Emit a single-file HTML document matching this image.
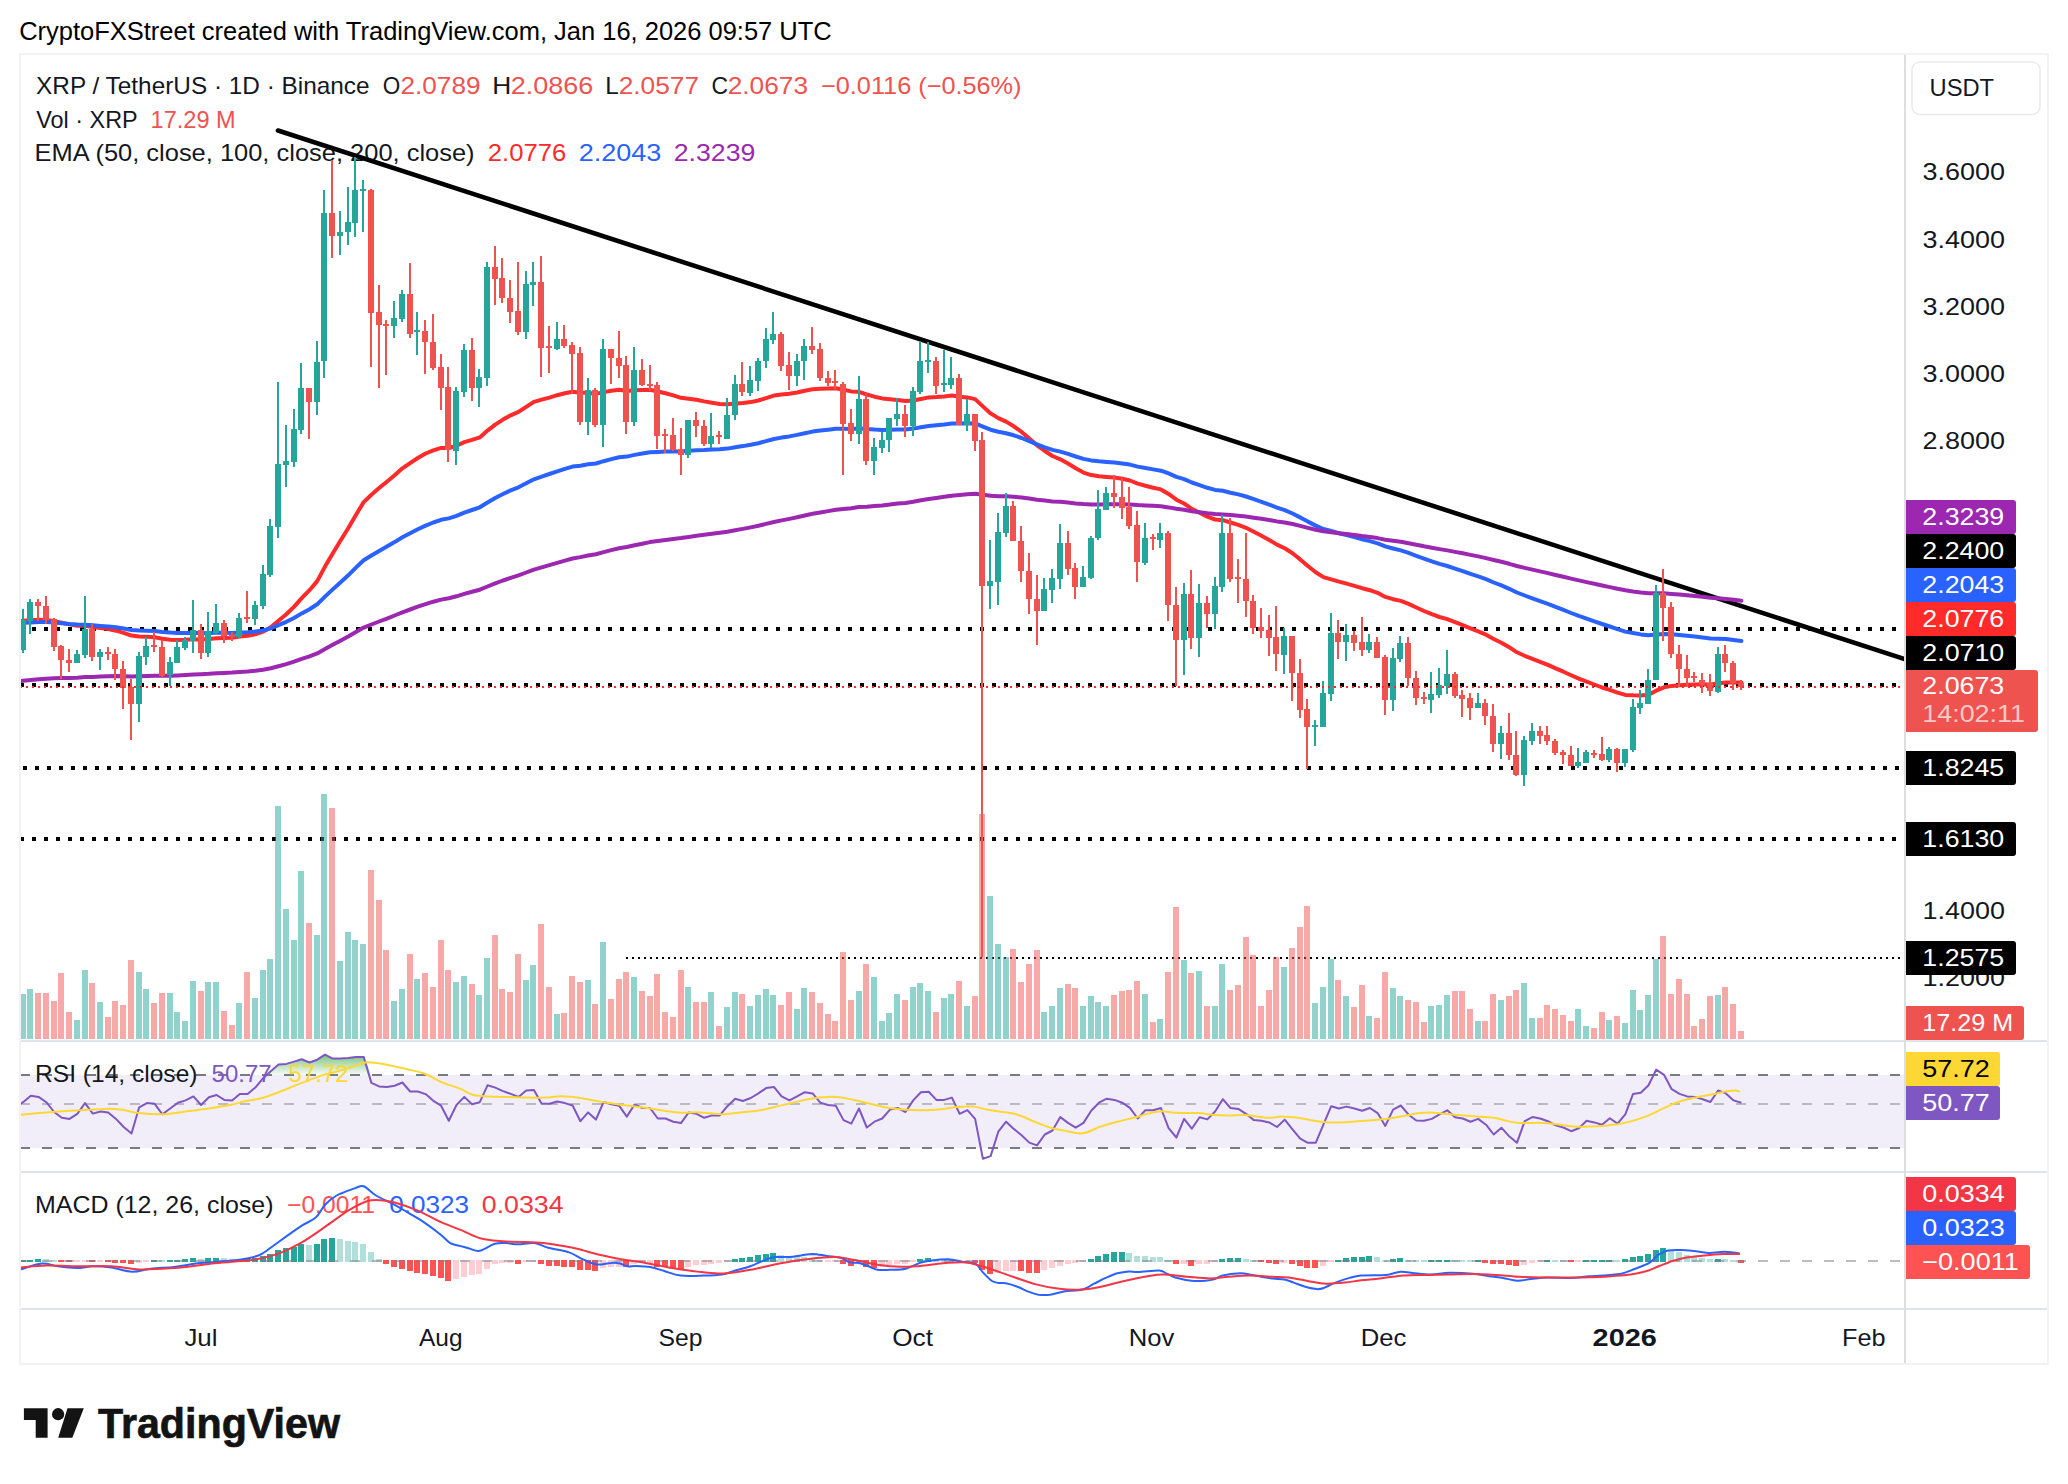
<!DOCTYPE html>
<html><head><meta charset="utf-8"><title>XRP / TetherUS chart</title>
<style>html,body{margin:0;padding:0;background:#fff}svg{display:block}text{font-family:"Liberation Sans", Arial, sans-serif;}</style></head><body>
<svg width="2068" height="1484" viewBox="0 0 2068 1484">
<rect width="2068" height="1484" fill="#fff"/>
<defs><clipPath id="cp"><rect x="21" y="55" width="1883" height="985"/></clipPath>
<clipPath id="cr"><rect x="21" y="1042" width="1883" height="129"/></clipPath>
<clipPath id="cm"><rect x="21" y="1173" width="1883" height="135"/></clipPath>
<linearGradient id="gg" x1="0" y1="1054" x2="0" y2="1075" gradientUnits="userSpaceOnUse"><stop offset="0" stop-color="#4CAF50" stop-opacity="0.75"/><stop offset="1" stop-color="#4CAF50" stop-opacity="0.05"/></linearGradient>
</defs>
<text x="19.2" y="40.0" font-size="25" fill="#000" textLength="812.5" lengthAdjust="spacingAndGlyphs" >CryptoFXStreet created with TradingView.com, Jan 16, 2026 09:57 UTC</text>
<g fill="none" stroke="#F2F2F3" stroke-width="2"><rect x="20" y="54" width="2028" height="1310"/></g>
<g stroke="#E0E3EB" stroke-width="2">
<line x1="21" x2="2047" y1="1041" y2="1041"/>
<line x1="21" x2="2047" y1="1172" y2="1172"/>
<line x1="21" x2="2047" y1="1309" y2="1309"/>
</g>
<line x1="1905" x2="1905" y1="55" y2="1363" stroke="#DEDEE1" stroke-width="2"/>
<text x="36.1" y="94.0" font-size="24" fill="#131722" textLength="333.5" lengthAdjust="spacingAndGlyphs" >XRP / TetherUS · 1D · Binance</text>
<text x="382.8" y="94.0" font-size="24" fill="#131722" textLength="17.5" lengthAdjust="spacingAndGlyphs" >O</text>
<text x="400.5" y="94.0" font-size="24" fill="#EF5350" textLength="80.0" lengthAdjust="spacingAndGlyphs" >2.0789</text>
<text x="492.2" y="94.0" font-size="24" fill="#131722" textLength="19.0" lengthAdjust="spacingAndGlyphs" >H</text>
<text x="510.8" y="94.0" font-size="24" fill="#EF5350" textLength="82.5" lengthAdjust="spacingAndGlyphs" >2.0866</text>
<text x="605.3" y="94.0" font-size="24" fill="#131722" textLength="13.5" lengthAdjust="spacingAndGlyphs" >L</text>
<text x="618.7" y="94.0" font-size="24" fill="#EF5350" textLength="80.3" lengthAdjust="spacingAndGlyphs" >2.0577</text>
<text x="711.5" y="94.0" font-size="24" fill="#131722" textLength="16.5" lengthAdjust="spacingAndGlyphs" >C</text>
<text x="727.7" y="94.0" font-size="24" fill="#EF5350" textLength="80.3" lengthAdjust="spacingAndGlyphs" >2.0673</text>
<text x="821.0" y="94.0" font-size="24" fill="#EF5350" textLength="200.5" lengthAdjust="spacingAndGlyphs" >−0.0116 (−0.56%)</text>
<text x="36.3" y="128.0" font-size="24" fill="#131722" textLength="101.4" lengthAdjust="spacingAndGlyphs" >Vol · XRP</text>
<text x="150.6" y="128.0" font-size="24" fill="#EF5350" textLength="85.0" lengthAdjust="spacingAndGlyphs" >17.29 M</text>
<text x="34.6" y="161.3" font-size="24" fill="#131722" textLength="440.0" lengthAdjust="spacingAndGlyphs" >EMA (50, close, 100, close, 200, close)</text>
<text x="487.8" y="161.3" font-size="24" fill="#FF2A2A" textLength="78.5" lengthAdjust="spacingAndGlyphs" >2.0776</text>
<text x="578.8" y="161.3" font-size="24" fill="#2962FF" textLength="82.5" lengthAdjust="spacingAndGlyphs" >2.2043</text>
<text x="673.8" y="161.3" font-size="24" fill="#9C27B0" textLength="81.5" lengthAdjust="spacingAndGlyphs" >2.3239</text>
<g clip-path="url(#cp)">
<g stroke="#000" stroke-width="4" stroke-dasharray="4 8">
<line x1="20" x2="1904" y1="629" y2="629"/>
<line x1="20" x2="1904" y1="685" y2="685"/>
<line x1="23" x2="1904" y1="768" y2="768"/>
<line x1="20" x2="1904" y1="839" y2="839"/>
</g>
<line x1="626" x2="1904" y1="958" y2="958" stroke="#000" stroke-width="2" stroke-dasharray="2 4"/>
<line x1="278" y1="130.5" x2="1906" y2="659.6" stroke="#000" stroke-width="4.6" stroke-linecap="round"/>
<g fill="#26A69A" fill-opacity="0.5">
<rect x="20" y="994" width="6" height="45"/>
<rect x="27" y="989" width="6" height="50"/>
<rect x="74" y="1020" width="6" height="19"/>
<rect x="82" y="970" width="6" height="69"/>
<rect x="97" y="1002" width="6" height="37"/>
<rect x="136" y="972" width="6" height="67"/>
<rect x="143" y="989" width="6" height="50"/>
<rect x="167" y="993" width="6" height="46"/>
<rect x="174" y="1012" width="6" height="27"/>
<rect x="182" y="1021" width="6" height="18"/>
<rect x="190" y="981" width="6" height="58"/>
<rect x="205" y="982" width="6" height="57"/>
<rect x="213" y="982" width="6" height="57"/>
<rect x="236" y="1003" width="6" height="36"/>
<rect x="252" y="998" width="6" height="41"/>
<rect x="260" y="970" width="6" height="69"/>
<rect x="267" y="959" width="6" height="80"/>
<rect x="275" y="806" width="6" height="233"/>
<rect x="283" y="909" width="6" height="130"/>
<rect x="291" y="940" width="6" height="99"/>
<rect x="298" y="871" width="6" height="168"/>
<rect x="314" y="935" width="6" height="104"/>
<rect x="321" y="794" width="6" height="245"/>
<rect x="337" y="961" width="6" height="78"/>
<rect x="345" y="932" width="6" height="107"/>
<rect x="352" y="940" width="6" height="99"/>
<rect x="360" y="944" width="6" height="95"/>
<rect x="391" y="1001" width="6" height="38"/>
<rect x="399" y="989" width="6" height="50"/>
<rect x="414" y="979" width="6" height="60"/>
<rect x="453" y="982" width="6" height="57"/>
<rect x="461" y="976" width="6" height="63"/>
<rect x="476" y="995" width="6" height="44"/>
<rect x="484" y="958" width="6" height="81"/>
<rect x="523" y="980" width="6" height="59"/>
<rect x="530" y="965" width="6" height="74"/>
<rect x="554" y="1014" width="6" height="25"/>
<rect x="585" y="980" width="6" height="59"/>
<rect x="600" y="942" width="6" height="97"/>
<rect x="631" y="977" width="6" height="62"/>
<rect x="685" y="987" width="6" height="52"/>
<rect x="708" y="992" width="6" height="47"/>
<rect x="724" y="1007" width="6" height="32"/>
<rect x="732" y="992" width="6" height="47"/>
<rect x="747" y="1006" width="6" height="33"/>
<rect x="755" y="995" width="6" height="44"/>
<rect x="763" y="989" width="6" height="50"/>
<rect x="770" y="995" width="6" height="44"/>
<rect x="794" y="1009" width="6" height="30"/>
<rect x="801" y="988" width="6" height="51"/>
<rect x="856" y="991" width="6" height="48"/>
<rect x="871" y="977" width="6" height="62"/>
<rect x="879" y="1021" width="6" height="18"/>
<rect x="886" y="1013" width="6" height="26"/>
<rect x="894" y="994" width="6" height="45"/>
<rect x="910" y="987" width="6" height="52"/>
<rect x="917" y="983" width="6" height="56"/>
<rect x="925" y="991" width="6" height="48"/>
<rect x="941" y="998" width="6" height="41"/>
<rect x="948" y="994" width="6" height="45"/>
<rect x="964" y="1006" width="6" height="33"/>
<rect x="987" y="896" width="6" height="143"/>
<rect x="995" y="944" width="6" height="95"/>
<rect x="1003" y="957" width="6" height="82"/>
<rect x="1041" y="1012" width="6" height="27"/>
<rect x="1049" y="1006" width="6" height="33"/>
<rect x="1057" y="988" width="6" height="51"/>
<rect x="1080" y="1006" width="6" height="33"/>
<rect x="1088" y="996" width="6" height="43"/>
<rect x="1095" y="1002" width="6" height="37"/>
<rect x="1103" y="1006" width="6" height="33"/>
<rect x="1142" y="994" width="6" height="45"/>
<rect x="1157" y="1019" width="6" height="20"/>
<rect x="1181" y="960" width="6" height="79"/>
<rect x="1196" y="971" width="6" height="68"/>
<rect x="1212" y="1006" width="6" height="33"/>
<rect x="1219" y="964" width="6" height="75"/>
<rect x="1281" y="967" width="6" height="72"/>
<rect x="1312" y="1003" width="6" height="36"/>
<rect x="1320" y="987" width="6" height="52"/>
<rect x="1328" y="959" width="6" height="80"/>
<rect x="1343" y="996" width="6" height="43"/>
<rect x="1366" y="1016" width="6" height="23"/>
<rect x="1390" y="988" width="6" height="51"/>
<rect x="1397" y="996" width="6" height="43"/>
<rect x="1428" y="1006" width="6" height="33"/>
<rect x="1436" y="1005" width="6" height="34"/>
<rect x="1444" y="995" width="6" height="44"/>
<rect x="1475" y="1021" width="6" height="18"/>
<rect x="1498" y="1000" width="6" height="39"/>
<rect x="1521" y="983" width="6" height="56"/>
<rect x="1529" y="1018" width="6" height="21"/>
<rect x="1575" y="1009" width="6" height="30"/>
<rect x="1583" y="1026" width="6" height="13"/>
<rect x="1606" y="1020" width="6" height="19"/>
<rect x="1622" y="1023" width="6" height="16"/>
<rect x="1630" y="990" width="6" height="49"/>
<rect x="1637" y="1010" width="6" height="29"/>
<rect x="1645" y="995" width="6" height="44"/>
<rect x="1653" y="959" width="6" height="80"/>
<rect x="1715" y="995" width="6" height="44"/>
</g>
<g fill="#EF5350" fill-opacity="0.5">
<rect x="35" y="993" width="6" height="46"/>
<rect x="43" y="993" width="6" height="46"/>
<rect x="51" y="1001" width="6" height="38"/>
<rect x="58" y="973" width="6" height="66"/>
<rect x="66" y="1012" width="6" height="27"/>
<rect x="89" y="983" width="6" height="56"/>
<rect x="105" y="1017" width="6" height="22"/>
<rect x="112" y="1001" width="6" height="38"/>
<rect x="120" y="1005" width="6" height="34"/>
<rect x="128" y="960" width="6" height="79"/>
<rect x="151" y="1003" width="6" height="36"/>
<rect x="159" y="993" width="6" height="46"/>
<rect x="198" y="991" width="6" height="48"/>
<rect x="221" y="1011" width="6" height="28"/>
<rect x="229" y="1025" width="6" height="14"/>
<rect x="244" y="972" width="6" height="67"/>
<rect x="306" y="923" width="6" height="116"/>
<rect x="329" y="808" width="6" height="231"/>
<rect x="368" y="870" width="6" height="169"/>
<rect x="376" y="900" width="6" height="139"/>
<rect x="383" y="950" width="6" height="89"/>
<rect x="407" y="954" width="6" height="85"/>
<rect x="422" y="973" width="6" height="66"/>
<rect x="430" y="987" width="6" height="52"/>
<rect x="438" y="940" width="6" height="99"/>
<rect x="445" y="970" width="6" height="69"/>
<rect x="469" y="984" width="6" height="55"/>
<rect x="492" y="935" width="6" height="104"/>
<rect x="499" y="989" width="6" height="50"/>
<rect x="507" y="992" width="6" height="47"/>
<rect x="515" y="954" width="6" height="85"/>
<rect x="538" y="924" width="6" height="115"/>
<rect x="546" y="987" width="6" height="52"/>
<rect x="561" y="1013" width="6" height="26"/>
<rect x="569" y="976" width="6" height="63"/>
<rect x="577" y="982" width="6" height="57"/>
<rect x="592" y="1004" width="6" height="35"/>
<rect x="608" y="999" width="6" height="40"/>
<rect x="616" y="979" width="6" height="60"/>
<rect x="623" y="972" width="6" height="67"/>
<rect x="639" y="991" width="6" height="48"/>
<rect x="647" y="996" width="6" height="43"/>
<rect x="654" y="974" width="6" height="65"/>
<rect x="662" y="1012" width="6" height="27"/>
<rect x="670" y="1017" width="6" height="22"/>
<rect x="678" y="970" width="6" height="69"/>
<rect x="693" y="1002" width="6" height="37"/>
<rect x="701" y="1002" width="6" height="37"/>
<rect x="716" y="1026" width="6" height="13"/>
<rect x="739" y="994" width="6" height="45"/>
<rect x="778" y="1005" width="6" height="34"/>
<rect x="786" y="992" width="6" height="47"/>
<rect x="809" y="992" width="6" height="47"/>
<rect x="817" y="1003" width="6" height="36"/>
<rect x="825" y="1014" width="6" height="25"/>
<rect x="832" y="1021" width="6" height="18"/>
<rect x="840" y="952" width="6" height="87"/>
<rect x="848" y="1000" width="6" height="39"/>
<rect x="863" y="964" width="6" height="75"/>
<rect x="902" y="1000" width="6" height="39"/>
<rect x="933" y="1012" width="6" height="27"/>
<rect x="956" y="981" width="6" height="58"/>
<rect x="972" y="996" width="6" height="43"/>
<rect x="979" y="814" width="6" height="225"/>
<rect x="1010" y="949" width="6" height="90"/>
<rect x="1018" y="982" width="6" height="57"/>
<rect x="1026" y="964" width="6" height="75"/>
<rect x="1034" y="950" width="6" height="89"/>
<rect x="1065" y="984" width="6" height="55"/>
<rect x="1072" y="988" width="6" height="51"/>
<rect x="1111" y="995" width="6" height="44"/>
<rect x="1119" y="991" width="6" height="48"/>
<rect x="1126" y="990" width="6" height="49"/>
<rect x="1134" y="981" width="6" height="58"/>
<rect x="1150" y="1022" width="6" height="17"/>
<rect x="1165" y="972" width="6" height="67"/>
<rect x="1173" y="907" width="6" height="132"/>
<rect x="1188" y="973" width="6" height="66"/>
<rect x="1204" y="1006" width="6" height="33"/>
<rect x="1227" y="990" width="6" height="49"/>
<rect x="1235" y="985" width="6" height="54"/>
<rect x="1243" y="937" width="6" height="102"/>
<rect x="1250" y="955" width="6" height="84"/>
<rect x="1258" y="1006" width="6" height="33"/>
<rect x="1266" y="990" width="6" height="49"/>
<rect x="1273" y="957" width="6" height="82"/>
<rect x="1289" y="948" width="6" height="91"/>
<rect x="1297" y="927" width="6" height="112"/>
<rect x="1304" y="906" width="6" height="133"/>
<rect x="1335" y="980" width="6" height="59"/>
<rect x="1351" y="1007" width="6" height="32"/>
<rect x="1359" y="985" width="6" height="54"/>
<rect x="1374" y="1018" width="6" height="21"/>
<rect x="1382" y="972" width="6" height="67"/>
<rect x="1405" y="1000" width="6" height="39"/>
<rect x="1413" y="1002" width="6" height="37"/>
<rect x="1421" y="1022" width="6" height="17"/>
<rect x="1452" y="991" width="6" height="48"/>
<rect x="1459" y="991" width="6" height="48"/>
<rect x="1467" y="1009" width="6" height="30"/>
<rect x="1482" y="1021" width="6" height="18"/>
<rect x="1490" y="994" width="6" height="45"/>
<rect x="1506" y="996" width="6" height="43"/>
<rect x="1513" y="990" width="6" height="49"/>
<rect x="1537" y="1018" width="6" height="21"/>
<rect x="1544" y="1005" width="6" height="34"/>
<rect x="1552" y="1009" width="6" height="30"/>
<rect x="1560" y="1015" width="6" height="24"/>
<rect x="1568" y="1021" width="6" height="18"/>
<rect x="1591" y="1028" width="6" height="11"/>
<rect x="1599" y="1012" width="6" height="27"/>
<rect x="1614" y="1016" width="6" height="23"/>
<rect x="1660" y="936" width="6" height="103"/>
<rect x="1668" y="994" width="6" height="45"/>
<rect x="1676" y="979" width="6" height="60"/>
<rect x="1684" y="994" width="6" height="45"/>
<rect x="1691" y="1026" width="6" height="13"/>
<rect x="1699" y="1019" width="6" height="20"/>
<rect x="1707" y="996" width="6" height="43"/>
<rect x="1722" y="987" width="6" height="52"/>
<rect x="1730" y="1004" width="6" height="35"/>
<rect x="1738" y="1031" width="6" height="8"/>
</g>
<path d="M15.4 621.4 L23.1 620.8 L30.8 620.2 L38.6 619.8 L46.3 620.0 L54.1 621.1 L61.8 622.7 L69.5 624.4 L77.3 625.7 L85.0 625.8 L92.8 627.1 L100.5 628.1 L108.2 629.1 L116.0 630.7 L123.7 632.9 L131.5 635.6 L139.2 636.4 L146.9 636.8 L154.7 637.3 L162.4 638.8 L170.2 639.7 L177.9 639.9 L185.6 639.7 L193.4 639.2 L201.1 639.5 L208.9 639.0 L216.6 638.2 L224.3 637.9 L232.1 637.7 L239.8 636.6 L247.6 635.7 L255.3 634.3 L263.0 631.7 L270.8 627.3 L278.5 620.7 L286.3 614.3 L294.0 606.9 L301.7 598.1 L309.5 590.2 L317.2 581.1 L325.0 566.6 L332.7 553.5 L340.4 540.8 L348.2 528.3 L355.9 515.0 L363.7 502.1 L371.4 494.7 L379.1 488.1 L386.9 481.7 L394.6 475.3 L402.4 468.3 L410.1 463.1 L417.8 458.0 L425.6 453.5 L433.3 450.4 L441.1 447.9 L448.8 448.0 L456.5 445.8 L464.3 442.1 L472.0 439.9 L479.8 437.4 L487.5 430.6 L495.2 424.6 L503.0 419.6 L510.7 415.3 L518.5 411.9 L526.2 406.8 L533.9 401.9 L541.7 399.7 L549.4 397.6 L557.2 395.2 L564.9 393.3 L572.6 391.7 L580.4 392.8 L588.1 392.7 L595.9 393.9 L603.6 392.1 L611.3 390.8 L619.1 389.7 L626.8 391.0 L634.6 390.2 L642.3 390.0 L650.0 389.8 L657.8 391.5 L665.5 393.3 L673.3 395.4 L681.0 397.8 L688.7 398.7 L696.5 399.7 L704.2 401.4 L712.0 402.7 L719.7 404.0 L727.4 404.3 L735.2 403.5 L742.9 403.1 L750.7 402.1 L758.4 400.5 L766.1 398.1 L773.9 395.6 L781.6 394.5 L789.4 393.8 L797.1 392.5 L804.8 390.7 L812.6 389.2 L820.3 388.7 L828.1 388.5 L835.8 388.2 L843.5 389.7 L851.3 391.4 L859.0 391.8 L866.8 394.5 L874.5 396.7 L882.2 398.4 L890.0 399.2 L897.7 399.9 L905.5 400.9 L913.2 400.5 L920.9 399.0 L928.7 397.4 L936.4 397.0 L944.2 396.4 L951.9 395.6 L959.6 396.7 L967.4 397.4 L975.1 399.1 L982.9 406.4 L990.6 413.4 L998.3 418.1 L1006.1 421.6 L1013.8 426.3 L1021.6 431.9 L1029.3 438.5 L1037.0 445.3 L1044.8 451.0 L1052.5 456.0 L1060.3 459.3 L1068.0 463.5 L1075.7 468.3 L1083.5 472.6 L1091.2 475.1 L1099.0 476.3 L1106.7 476.9 L1114.4 477.5 L1122.2 478.7 L1129.9 480.5 L1137.7 483.6 L1145.4 485.7 L1153.1 487.7 L1160.9 489.4 L1168.6 493.9 L1176.4 499.7 L1184.1 503.5 L1191.8 508.9 L1199.6 512.7 L1207.3 516.7 L1215.1 519.5 L1222.8 520.2 L1230.5 522.5 L1238.3 524.8 L1246.0 527.8 L1253.8 531.8 L1261.5 535.8 L1269.2 540.0 L1277.0 544.6 L1284.7 548.3 L1292.5 553.2 L1300.2 559.4 L1307.9 566.0 L1315.7 572.3 L1323.4 577.1 L1331.2 579.3 L1338.9 581.6 L1346.6 583.6 L1354.4 585.8 L1362.1 588.2 L1369.9 590.2 L1377.6 592.8 L1385.3 596.9 L1393.1 599.2 L1400.8 600.9 L1408.6 603.9 L1416.3 607.5 L1424.0 611.0 L1431.8 614.2 L1439.5 617.0 L1447.3 619.2 L1455.0 622.1 L1462.7 625.1 L1470.5 628.4 L1478.2 631.3 L1486.0 634.7 L1493.7 639.0 L1501.4 642.7 L1509.2 647.2 L1516.9 652.3 L1524.7 655.8 L1532.4 658.8 L1540.1 661.8 L1547.9 664.9 L1555.6 668.3 L1563.4 671.7 L1571.1 675.3 L1578.8 678.7 L1586.6 681.6 L1594.3 684.5 L1602.1 687.5 L1609.8 689.9 L1617.5 692.7 L1625.3 694.9 L1633.0 695.3 L1640.8 695.5 L1648.5 694.8 L1656.2 690.7 L1664.0 687.3 L1671.7 685.9 L1679.5 685.2 L1687.2 684.8 L1694.9 684.4 L1702.7 684.3 L1710.4 684.5 L1718.2 683.3 L1725.9 682.5 L1733.6 682.5 L1741.4 682.6" fill="none" stroke="#FF2A2A" stroke-width="4" stroke-linejoin="round" stroke-linecap="round"/>
<path d="M15.4 623.2 L23.1 622.8 L30.8 622.4 L38.6 622.1 L46.3 622.0 L54.1 622.5 L61.8 623.2 L69.5 624.0 L77.3 624.6 L85.0 624.7 L92.8 625.3 L100.5 625.9 L108.2 626.4 L116.0 627.3 L123.7 628.5 L131.5 630.0 L139.2 630.5 L146.9 630.8 L154.7 631.1 L162.4 632.0 L170.2 632.6 L177.9 632.9 L185.6 633.0 L193.4 632.8 L201.1 633.2 L208.9 633.0 L216.6 632.8 L224.3 632.8 L232.1 632.9 L239.8 632.5 L247.6 632.2 L255.3 631.6 L263.0 630.5 L270.8 628.3 L278.5 625.1 L286.3 621.8 L294.0 618.0 L301.7 613.4 L309.5 609.2 L317.2 604.3 L325.0 596.6 L332.7 589.4 L340.4 582.4 L348.2 575.3 L355.9 567.7 L363.7 560.3 L371.4 555.5 L379.1 551.0 L386.9 546.6 L394.6 542.1 L402.4 537.3 L410.1 533.3 L417.8 529.3 L425.6 525.6 L433.3 522.5 L441.1 519.8 L448.8 518.4 L456.5 515.9 L464.3 512.6 L472.0 510.0 L479.8 507.3 L487.5 502.5 L495.2 498.0 L503.0 494.0 L510.7 490.4 L518.5 487.3 L526.2 483.2 L533.9 479.3 L541.7 476.7 L549.4 474.0 L557.2 471.3 L564.9 468.9 L572.6 466.6 L580.4 465.7 L588.1 464.2 L595.9 463.5 L603.6 461.2 L611.3 459.1 L619.1 457.3 L626.8 456.6 L634.6 454.9 L642.3 453.5 L650.0 452.2 L657.8 451.9 L665.5 451.5 L673.3 451.4 L681.0 451.4 L688.7 450.7 L696.5 450.2 L704.2 450.0 L712.0 449.6 L719.7 449.3 L727.4 448.6 L735.2 447.2 L742.9 446.1 L750.7 444.8 L758.4 443.2 L766.1 441.1 L773.9 439.0 L781.6 437.6 L789.4 436.4 L797.1 434.9 L804.8 433.2 L812.6 431.6 L820.3 430.6 L828.1 429.7 L835.8 428.8 L843.5 428.7 L851.3 428.9 L859.0 428.4 L866.8 429.1 L874.5 429.6 L882.2 429.9 L890.0 429.7 L897.7 429.5 L905.5 429.4 L913.2 428.6 L920.9 427.3 L928.7 426.0 L936.4 425.2 L944.2 424.4 L951.9 423.4 L959.6 423.4 L967.4 423.2 L975.1 423.4 L982.9 426.6 L990.6 429.7 L998.3 431.7 L1006.1 433.2 L1013.8 435.3 L1021.6 438.0 L1029.3 441.1 L1037.0 444.4 L1044.8 447.3 L1052.5 449.9 L1060.3 451.6 L1068.0 453.9 L1075.7 456.5 L1083.5 458.9 L1091.2 460.4 L1099.0 461.3 L1106.7 461.9 L1114.4 462.5 L1122.2 463.4 L1129.9 464.6 L1137.7 466.6 L1145.4 468.0 L1153.1 469.4 L1160.9 470.7 L1168.6 473.4 L1176.4 476.8 L1184.1 479.2 L1191.8 482.5 L1199.6 485.1 L1207.3 487.8 L1215.1 489.9 L1222.8 490.8 L1230.5 492.7 L1238.3 494.4 L1246.0 496.5 L1253.8 499.2 L1261.5 501.8 L1269.2 504.6 L1277.0 507.6 L1284.7 510.2 L1292.5 513.5 L1300.2 517.4 L1307.9 521.6 L1315.7 525.6 L1323.4 529.0 L1331.2 531.0 L1338.9 533.2 L1346.6 535.1 L1354.4 537.1 L1362.1 539.2 L1369.9 541.1 L1377.6 543.3 L1385.3 546.3 L1393.1 548.5 L1400.8 550.4 L1408.6 552.9 L1416.3 555.8 L1424.0 558.6 L1431.8 561.3 L1439.5 563.8 L1447.3 566.0 L1455.0 568.6 L1462.7 571.1 L1470.5 573.9 L1478.2 576.4 L1486.0 579.2 L1493.7 582.5 L1501.4 585.4 L1509.2 588.8 L1516.9 592.5 L1524.7 595.5 L1532.4 598.3 L1540.1 601.1 L1547.9 603.9 L1555.6 606.9 L1563.4 609.9 L1571.1 613.0 L1578.8 615.9 L1586.6 618.6 L1594.3 621.3 L1602.1 624.0 L1609.8 626.5 L1617.5 629.2 L1625.3 631.6 L1633.0 633.0 L1640.8 634.4 L1648.5 635.3 L1656.2 634.5 L1664.0 633.9 L1671.7 634.3 L1679.5 634.9 L1687.2 635.7 L1694.9 636.5 L1702.7 637.4 L1710.4 638.4 L1718.2 638.7 L1725.9 639.1 L1733.6 640.0 L1741.4 640.9" fill="none" stroke="#2962FF" stroke-width="4" stroke-linejoin="round" stroke-linecap="round"/>
<path d="M15.4 681.6 L23.1 680.8 L30.8 680.0 L38.6 679.3 L46.3 678.7 L54.1 678.3 L61.8 678.1 L69.5 677.9 L77.3 677.7 L85.0 677.1 L92.8 676.9 L100.5 676.5 L108.2 676.2 L116.0 676.1 L123.7 676.3 L131.5 676.5 L139.2 676.3 L146.9 676.0 L154.7 675.8 L162.4 675.8 L170.2 675.7 L177.9 675.4 L185.6 675.0 L193.4 674.5 L201.1 674.2 L208.9 673.8 L216.6 673.2 L224.3 672.9 L232.1 672.5 L239.8 671.9 L247.6 671.4 L255.3 670.7 L263.0 669.8 L270.8 668.3 L278.5 666.2 L286.3 664.1 L294.0 661.7 L301.7 658.9 L309.5 656.3 L317.2 653.4 L325.0 649.0 L332.7 644.8 L340.4 640.7 L348.2 636.5 L355.9 632.0 L363.7 627.6 L371.4 624.5 L379.1 621.5 L386.9 618.6 L394.6 615.5 L402.4 612.3 L410.1 609.5 L417.8 606.7 L425.6 604.1 L433.3 601.7 L441.1 599.6 L448.8 598.2 L456.5 596.3 L464.3 593.9 L472.0 591.8 L479.8 589.7 L487.5 586.5 L495.2 583.4 L503.0 580.5 L510.7 577.9 L518.5 575.4 L526.2 572.5 L533.9 569.6 L541.7 567.3 L549.4 565.1 L557.2 562.8 L564.9 560.6 L572.6 558.5 L580.4 557.1 L588.1 555.5 L595.9 554.2 L603.6 552.1 L611.3 550.1 L619.1 548.3 L626.8 547.0 L634.6 545.2 L642.3 543.7 L650.0 542.1 L657.8 541.0 L665.5 539.9 L673.3 539.0 L681.0 538.1 L688.7 536.9 L696.5 535.7 L704.2 534.8 L712.0 533.8 L719.7 532.8 L727.4 531.7 L735.2 530.3 L742.9 528.9 L750.7 527.4 L758.4 525.8 L766.1 523.9 L773.9 522.0 L781.6 520.4 L789.4 518.9 L797.1 517.3 L804.8 515.5 L812.6 513.8 L820.3 512.5 L828.1 511.1 L835.8 509.8 L843.5 509.0 L851.3 508.2 L859.0 507.1 L866.8 506.7 L874.5 506.1 L882.2 505.5 L890.0 504.6 L897.7 503.6 L905.5 502.9 L913.2 501.7 L920.9 500.3 L928.7 499.0 L936.4 497.9 L944.2 496.8 L951.9 495.7 L959.6 495.0 L967.4 494.3 L975.1 493.8 L982.9 494.8 L990.6 495.7 L998.3 496.2 L1006.1 496.3 L1013.8 496.8 L1021.6 497.6 L1029.3 498.6 L1037.0 499.7 L1044.8 500.6 L1052.5 501.4 L1060.3 501.8 L1068.0 502.5 L1075.7 503.4 L1083.5 504.1 L1091.2 504.5 L1099.0 504.5 L1106.7 504.3 L1114.4 504.3 L1122.2 504.3 L1129.9 504.5 L1137.7 505.1 L1145.4 505.4 L1153.1 505.8 L1160.9 506.2 L1168.6 507.4 L1176.4 508.8 L1184.1 509.8 L1191.8 511.2 L1199.6 512.2 L1207.3 513.3 L1215.1 514.1 L1222.8 514.4 L1230.5 515.1 L1238.3 515.7 L1246.0 516.5 L1253.8 517.7 L1261.5 518.8 L1269.2 520.0 L1277.0 521.4 L1284.7 522.5 L1292.5 524.0 L1300.2 525.9 L1307.9 527.9 L1315.7 529.8 L1323.4 531.3 L1331.2 532.2 L1338.9 533.2 L1346.6 534.1 L1354.4 535.0 L1362.1 536.1 L1369.9 537.0 L1377.6 538.1 L1385.3 539.7 L1393.1 540.8 L1400.8 541.8 L1408.6 543.2 L1416.3 544.7 L1424.0 546.3 L1431.8 547.7 L1439.5 549.1 L1447.3 550.4 L1455.0 551.9 L1462.7 553.3 L1470.5 554.9 L1478.2 556.4 L1486.0 558.1 L1493.7 560.0 L1501.4 561.8 L1509.2 563.8 L1516.9 566.0 L1524.7 567.9 L1532.4 569.6 L1540.1 571.4 L1547.9 573.1 L1555.6 575.0 L1563.4 576.8 L1571.1 578.6 L1578.8 580.4 L1586.6 582.1 L1594.3 583.7 L1602.1 585.5 L1609.8 587.1 L1617.5 588.8 L1625.3 590.3 L1633.0 591.5 L1640.8 592.5 L1648.5 593.3 L1656.2 593.3 L1664.0 593.3 L1671.7 593.9 L1679.5 594.5 L1687.2 595.3 L1694.9 596.0 L1702.7 596.8 L1710.4 597.7 L1718.2 598.3 L1725.9 598.9 L1733.6 599.8 L1741.4 600.7" fill="none" stroke="#9C27B0" stroke-width="4" stroke-linejoin="round" stroke-linecap="round"/>
<g fill="#26A69A" stroke="none">
<rect x="22" y="609" width="2" height="44"/>
<rect x="20" y="620" width="6" height="30"/>
<rect x="29" y="599" width="2" height="35"/>
<rect x="27" y="602" width="6" height="19"/>
<rect x="76" y="650" width="2" height="13"/>
<rect x="74" y="654" width="6" height="9"/>
<rect x="84" y="596" width="2" height="62"/>
<rect x="82" y="629" width="6" height="26"/>
<rect x="99" y="649" width="2" height="21"/>
<rect x="97" y="652" width="6" height="5"/>
<rect x="138" y="652" width="2" height="70"/>
<rect x="136" y="656" width="6" height="48"/>
<rect x="145" y="637" width="2" height="28"/>
<rect x="143" y="646" width="6" height="11"/>
<rect x="169" y="657" width="2" height="29"/>
<rect x="167" y="662" width="6" height="13"/>
<rect x="176" y="640" width="2" height="23"/>
<rect x="174" y="647" width="6" height="16"/>
<rect x="184" y="637" width="2" height="13"/>
<rect x="182" y="640" width="6" height="8"/>
<rect x="192" y="600" width="2" height="53"/>
<rect x="190" y="630" width="6" height="11"/>
<rect x="207" y="612" width="2" height="45"/>
<rect x="205" y="631" width="6" height="22"/>
<rect x="215" y="604" width="2" height="30"/>
<rect x="213" y="623" width="6" height="10"/>
<rect x="238" y="613" width="2" height="25"/>
<rect x="236" y="618" width="6" height="19"/>
<rect x="254" y="601" width="2" height="24"/>
<rect x="252" y="605" width="6" height="14"/>
<rect x="262" y="565" width="2" height="44"/>
<rect x="260" y="574" width="6" height="32"/>
<rect x="269" y="519" width="2" height="58"/>
<rect x="267" y="526" width="6" height="49"/>
<rect x="277" y="382" width="2" height="156"/>
<rect x="275" y="464" width="6" height="63"/>
<rect x="285" y="425" width="2" height="62"/>
<rect x="283" y="461" width="6" height="4"/>
<rect x="293" y="409" width="2" height="58"/>
<rect x="291" y="429" width="6" height="33"/>
<rect x="300" y="363" width="2" height="71"/>
<rect x="298" y="388" width="6" height="42"/>
<rect x="316" y="341" width="2" height="74"/>
<rect x="314" y="362" width="6" height="40"/>
<rect x="323" y="190" width="2" height="188"/>
<rect x="321" y="213" width="6" height="148"/>
<rect x="339" y="211" width="2" height="44"/>
<rect x="337" y="232" width="6" height="4"/>
<rect x="347" y="187" width="2" height="58"/>
<rect x="345" y="222" width="6" height="10"/>
<rect x="354" y="157" width="2" height="80"/>
<rect x="352" y="190" width="6" height="33"/>
<rect x="362" y="180" width="2" height="52"/>
<rect x="360" y="189" width="6" height="2"/>
<rect x="393" y="301" width="2" height="37"/>
<rect x="391" y="318" width="6" height="8"/>
<rect x="401" y="290" width="2" height="32"/>
<rect x="399" y="294" width="6" height="25"/>
<rect x="416" y="312" width="2" height="43"/>
<rect x="414" y="330" width="6" height="2"/>
<rect x="455" y="387" width="2" height="78"/>
<rect x="453" y="391" width="6" height="60"/>
<rect x="463" y="344" width="2" height="53"/>
<rect x="461" y="350" width="6" height="42"/>
<rect x="478" y="369" width="2" height="38"/>
<rect x="476" y="377" width="6" height="11"/>
<rect x="486" y="262" width="2" height="124"/>
<rect x="484" y="267" width="6" height="111"/>
<rect x="525" y="271" width="2" height="68"/>
<rect x="523" y="284" width="6" height="48"/>
<rect x="532" y="262" width="2" height="44"/>
<rect x="530" y="282" width="6" height="3"/>
<rect x="556" y="322" width="2" height="28"/>
<rect x="554" y="339" width="6" height="10"/>
<rect x="587" y="378" width="2" height="57"/>
<rect x="585" y="390" width="6" height="32"/>
<rect x="602" y="339" width="2" height="108"/>
<rect x="600" y="349" width="6" height="76"/>
<rect x="633" y="347" width="2" height="79"/>
<rect x="631" y="370" width="6" height="52"/>
<rect x="687" y="420" width="2" height="38"/>
<rect x="685" y="420" width="6" height="35"/>
<rect x="710" y="413" width="2" height="35"/>
<rect x="708" y="436" width="6" height="8"/>
<rect x="726" y="398" width="2" height="41"/>
<rect x="724" y="415" width="6" height="24"/>
<rect x="734" y="375" width="2" height="45"/>
<rect x="732" y="384" width="6" height="31"/>
<rect x="749" y="366" width="2" height="30"/>
<rect x="747" y="380" width="6" height="13"/>
<rect x="757" y="358" width="2" height="33"/>
<rect x="755" y="361" width="6" height="20"/>
<rect x="765" y="328" width="2" height="40"/>
<rect x="763" y="339" width="6" height="22"/>
<rect x="772" y="312" width="2" height="32"/>
<rect x="770" y="334" width="6" height="6"/>
<rect x="796" y="354" width="2" height="32"/>
<rect x="794" y="361" width="6" height="15"/>
<rect x="803" y="339" width="2" height="41"/>
<rect x="801" y="346" width="6" height="15"/>
<rect x="858" y="376" width="2" height="68"/>
<rect x="856" y="399" width="6" height="35"/>
<rect x="873" y="438" width="2" height="37"/>
<rect x="871" y="447" width="6" height="14"/>
<rect x="881" y="432" width="2" height="21"/>
<rect x="879" y="440" width="6" height="8"/>
<rect x="888" y="418" width="2" height="34"/>
<rect x="886" y="418" width="6" height="22"/>
<rect x="896" y="398" width="2" height="28"/>
<rect x="894" y="414" width="6" height="5"/>
<rect x="912" y="387" width="2" height="49"/>
<rect x="910" y="391" width="6" height="35"/>
<rect x="919" y="341" width="2" height="53"/>
<rect x="917" y="361" width="6" height="31"/>
<rect x="927" y="342" width="2" height="31"/>
<rect x="925" y="360" width="6" height="2"/>
<rect x="943" y="350" width="2" height="42"/>
<rect x="941" y="383" width="6" height="2"/>
<rect x="950" y="357" width="2" height="32"/>
<rect x="948" y="378" width="6" height="7"/>
<rect x="966" y="399" width="2" height="32"/>
<rect x="964" y="414" width="6" height="11"/>
<rect x="989" y="540" width="2" height="69"/>
<rect x="987" y="581" width="6" height="5"/>
<rect x="997" y="513" width="2" height="92"/>
<rect x="995" y="532" width="6" height="50"/>
<rect x="1005" y="493" width="2" height="44"/>
<rect x="1003" y="506" width="6" height="27"/>
<rect x="1043" y="578" width="2" height="33"/>
<rect x="1041" y="589" width="6" height="22"/>
<rect x="1051" y="569" width="2" height="34"/>
<rect x="1049" y="578" width="6" height="12"/>
<rect x="1059" y="524" width="2" height="65"/>
<rect x="1057" y="543" width="6" height="36"/>
<rect x="1082" y="566" width="2" height="21"/>
<rect x="1080" y="577" width="6" height="10"/>
<rect x="1090" y="536" width="2" height="43"/>
<rect x="1088" y="538" width="6" height="40"/>
<rect x="1097" y="490" width="2" height="50"/>
<rect x="1095" y="509" width="6" height="29"/>
<rect x="1105" y="487" width="2" height="23"/>
<rect x="1103" y="493" width="6" height="17"/>
<rect x="1144" y="523" width="2" height="42"/>
<rect x="1142" y="538" width="6" height="25"/>
<rect x="1159" y="523" width="2" height="25"/>
<rect x="1157" y="533" width="6" height="7"/>
<rect x="1183" y="583" width="2" height="92"/>
<rect x="1181" y="594" width="6" height="46"/>
<rect x="1198" y="584" width="2" height="73"/>
<rect x="1196" y="603" width="6" height="35"/>
<rect x="1214" y="577" width="2" height="52"/>
<rect x="1212" y="586" width="6" height="28"/>
<rect x="1221" y="515" width="2" height="77"/>
<rect x="1219" y="533" width="6" height="54"/>
<rect x="1283" y="628" width="2" height="46"/>
<rect x="1281" y="636" width="6" height="19"/>
<rect x="1314" y="720" width="2" height="26"/>
<rect x="1312" y="725" width="6" height="2"/>
<rect x="1322" y="681" width="2" height="46"/>
<rect x="1320" y="693" width="6" height="34"/>
<rect x="1330" y="613" width="2" height="88"/>
<rect x="1328" y="633" width="6" height="61"/>
<rect x="1345" y="624" width="2" height="37"/>
<rect x="1343" y="635" width="6" height="7"/>
<rect x="1368" y="634" width="2" height="19"/>
<rect x="1366" y="642" width="6" height="8"/>
<rect x="1392" y="648" width="2" height="63"/>
<rect x="1390" y="658" width="6" height="42"/>
<rect x="1399" y="636" width="2" height="26"/>
<rect x="1397" y="643" width="6" height="16"/>
<rect x="1430" y="672" width="2" height="41"/>
<rect x="1428" y="694" width="6" height="6"/>
<rect x="1438" y="668" width="2" height="30"/>
<rect x="1436" y="685" width="6" height="10"/>
<rect x="1446" y="650" width="2" height="44"/>
<rect x="1444" y="674" width="6" height="12"/>
<rect x="1477" y="693" width="2" height="15"/>
<rect x="1475" y="703" width="6" height="5"/>
<rect x="1500" y="726" width="2" height="33"/>
<rect x="1498" y="733" width="6" height="11"/>
<rect x="1523" y="736" width="2" height="50"/>
<rect x="1521" y="740" width="6" height="35"/>
<rect x="1531" y="723" width="2" height="22"/>
<rect x="1529" y="731" width="6" height="10"/>
<rect x="1577" y="748" width="2" height="20"/>
<rect x="1575" y="762" width="6" height="4"/>
<rect x="1585" y="750" width="2" height="13"/>
<rect x="1583" y="752" width="6" height="11"/>
<rect x="1608" y="747" width="2" height="15"/>
<rect x="1606" y="749" width="6" height="11"/>
<rect x="1624" y="749" width="2" height="18"/>
<rect x="1622" y="749" width="6" height="14"/>
<rect x="1632" y="699" width="2" height="53"/>
<rect x="1630" y="707" width="6" height="43"/>
<rect x="1639" y="690" width="2" height="24"/>
<rect x="1637" y="703" width="6" height="5"/>
<rect x="1647" y="669" width="2" height="35"/>
<rect x="1645" y="680" width="6" height="24"/>
<rect x="1655" y="585" width="2" height="95"/>
<rect x="1653" y="593" width="6" height="87"/>
<rect x="1717" y="647" width="2" height="46"/>
<rect x="1715" y="654" width="6" height="38"/>
</g>
<g fill="#EF5350" stroke="none">
<rect x="37" y="599" width="2" height="22"/>
<rect x="35" y="602" width="6" height="4"/>
<rect x="45" y="596" width="2" height="28"/>
<rect x="43" y="606" width="6" height="14"/>
<rect x="53" y="618" width="2" height="33"/>
<rect x="51" y="619" width="6" height="28"/>
<rect x="60" y="645" width="2" height="34"/>
<rect x="58" y="646" width="6" height="14"/>
<rect x="68" y="649" width="2" height="23"/>
<rect x="66" y="660" width="6" height="3"/>
<rect x="91" y="624" width="2" height="37"/>
<rect x="89" y="629" width="6" height="28"/>
<rect x="107" y="647" width="2" height="13"/>
<rect x="105" y="652" width="6" height="2"/>
<rect x="114" y="649" width="2" height="31"/>
<rect x="112" y="654" width="6" height="15"/>
<rect x="122" y="661" width="2" height="48"/>
<rect x="120" y="669" width="6" height="19"/>
<rect x="130" y="679" width="2" height="61"/>
<rect x="128" y="687" width="6" height="17"/>
<rect x="153" y="632" width="2" height="20"/>
<rect x="151" y="645" width="6" height="2"/>
<rect x="161" y="640" width="2" height="37"/>
<rect x="159" y="647" width="6" height="29"/>
<rect x="200" y="624" width="2" height="35"/>
<rect x="198" y="630" width="6" height="23"/>
<rect x="223" y="620" width="2" height="23"/>
<rect x="221" y="623" width="6" height="13"/>
<rect x="231" y="632" width="2" height="9"/>
<rect x="229" y="635" width="6" height="2"/>
<rect x="246" y="591" width="2" height="32"/>
<rect x="244" y="617" width="6" height="2"/>
<rect x="308" y="388" width="2" height="51"/>
<rect x="306" y="388" width="6" height="14"/>
<rect x="331" y="160" width="2" height="98"/>
<rect x="329" y="213" width="6" height="23"/>
<rect x="370" y="189" width="2" height="178"/>
<rect x="368" y="190" width="6" height="123"/>
<rect x="378" y="285" width="2" height="103"/>
<rect x="376" y="312" width="6" height="13"/>
<rect x="385" y="320" width="2" height="55"/>
<rect x="383" y="324" width="6" height="2"/>
<rect x="409" y="263" width="2" height="75"/>
<rect x="407" y="294" width="6" height="40"/>
<rect x="424" y="320" width="2" height="54"/>
<rect x="422" y="331" width="6" height="11"/>
<rect x="432" y="314" width="2" height="56"/>
<rect x="430" y="342" width="6" height="26"/>
<rect x="440" y="354" width="2" height="56"/>
<rect x="438" y="367" width="6" height="21"/>
<rect x="447" y="367" width="2" height="95"/>
<rect x="445" y="387" width="6" height="63"/>
<rect x="471" y="338" width="2" height="63"/>
<rect x="469" y="350" width="6" height="38"/>
<rect x="494" y="246" width="2" height="59"/>
<rect x="492" y="267" width="6" height="12"/>
<rect x="501" y="258" width="2" height="45"/>
<rect x="499" y="278" width="6" height="20"/>
<rect x="509" y="280" width="2" height="43"/>
<rect x="507" y="298" width="6" height="14"/>
<rect x="517" y="262" width="2" height="73"/>
<rect x="515" y="311" width="6" height="21"/>
<rect x="540" y="256" width="2" height="121"/>
<rect x="538" y="282" width="6" height="66"/>
<rect x="548" y="326" width="2" height="47"/>
<rect x="546" y="346" width="6" height="2"/>
<rect x="563" y="325" width="2" height="23"/>
<rect x="561" y="339" width="6" height="7"/>
<rect x="571" y="342" width="2" height="52"/>
<rect x="569" y="345" width="6" height="9"/>
<rect x="579" y="347" width="2" height="78"/>
<rect x="577" y="353" width="6" height="69"/>
<rect x="594" y="388" width="2" height="39"/>
<rect x="592" y="390" width="6" height="35"/>
<rect x="610" y="349" width="2" height="35"/>
<rect x="608" y="349" width="6" height="9"/>
<rect x="618" y="331" width="2" height="47"/>
<rect x="616" y="358" width="6" height="8"/>
<rect x="625" y="356" width="2" height="78"/>
<rect x="623" y="365" width="6" height="57"/>
<rect x="641" y="359" width="2" height="27"/>
<rect x="639" y="370" width="6" height="15"/>
<rect x="649" y="365" width="2" height="26"/>
<rect x="647" y="384" width="6" height="2"/>
<rect x="656" y="382" width="2" height="67"/>
<rect x="654" y="385" width="6" height="51"/>
<rect x="664" y="429" width="2" height="24"/>
<rect x="662" y="434" width="6" height="2"/>
<rect x="672" y="418" width="2" height="33"/>
<rect x="670" y="435" width="6" height="15"/>
<rect x="680" y="428" width="2" height="47"/>
<rect x="678" y="449" width="6" height="6"/>
<rect x="695" y="412" width="2" height="25"/>
<rect x="693" y="420" width="6" height="6"/>
<rect x="703" y="420" width="2" height="26"/>
<rect x="701" y="426" width="6" height="18"/>
<rect x="718" y="431" width="2" height="13"/>
<rect x="716" y="435" width="6" height="2"/>
<rect x="741" y="362" width="2" height="34"/>
<rect x="739" y="384" width="6" height="8"/>
<rect x="780" y="332" width="2" height="39"/>
<rect x="778" y="334" width="6" height="32"/>
<rect x="788" y="352" width="2" height="38"/>
<rect x="786" y="365" width="6" height="11"/>
<rect x="811" y="327" width="2" height="27"/>
<rect x="809" y="346" width="6" height="4"/>
<rect x="819" y="343" width="2" height="38"/>
<rect x="817" y="349" width="6" height="29"/>
<rect x="827" y="371" width="2" height="15"/>
<rect x="825" y="378" width="6" height="5"/>
<rect x="834" y="370" width="2" height="19"/>
<rect x="832" y="381" width="6" height="2"/>
<rect x="842" y="382" width="2" height="93"/>
<rect x="840" y="384" width="6" height="40"/>
<rect x="850" y="409" width="2" height="32"/>
<rect x="848" y="423" width="6" height="11"/>
<rect x="865" y="393" width="2" height="72"/>
<rect x="863" y="399" width="6" height="62"/>
<rect x="904" y="405" width="2" height="32"/>
<rect x="902" y="414" width="6" height="12"/>
<rect x="935" y="357" width="2" height="37"/>
<rect x="933" y="361" width="6" height="25"/>
<rect x="958" y="374" width="2" height="51"/>
<rect x="956" y="378" width="6" height="47"/>
<rect x="974" y="414" width="2" height="37"/>
<rect x="972" y="414" width="6" height="27"/>
<rect x="981" y="432" width="2" height="525"/>
<rect x="979" y="440" width="6" height="146"/>
<rect x="1012" y="501" width="2" height="40"/>
<rect x="1010" y="506" width="6" height="35"/>
<rect x="1020" y="526" width="2" height="56"/>
<rect x="1018" y="541" width="6" height="30"/>
<rect x="1028" y="553" width="2" height="61"/>
<rect x="1026" y="571" width="6" height="28"/>
<rect x="1036" y="575" width="2" height="70"/>
<rect x="1034" y="599" width="6" height="12"/>
<rect x="1067" y="531" width="2" height="44"/>
<rect x="1065" y="543" width="6" height="26"/>
<rect x="1074" y="563" width="2" height="36"/>
<rect x="1072" y="568" width="6" height="19"/>
<rect x="1113" y="475" width="2" height="33"/>
<rect x="1111" y="493" width="6" height="4"/>
<rect x="1121" y="478" width="2" height="41"/>
<rect x="1119" y="497" width="6" height="11"/>
<rect x="1128" y="487" width="2" height="42"/>
<rect x="1126" y="507" width="6" height="19"/>
<rect x="1136" y="511" width="2" height="71"/>
<rect x="1134" y="525" width="6" height="37"/>
<rect x="1152" y="534" width="2" height="16"/>
<rect x="1150" y="537" width="6" height="2"/>
<rect x="1167" y="531" width="2" height="90"/>
<rect x="1165" y="533" width="6" height="72"/>
<rect x="1175" y="587" width="2" height="99"/>
<rect x="1173" y="605" width="6" height="35"/>
<rect x="1190" y="570" width="2" height="79"/>
<rect x="1188" y="594" width="6" height="44"/>
<rect x="1206" y="596" width="2" height="32"/>
<rect x="1204" y="603" width="6" height="11"/>
<rect x="1229" y="518" width="2" height="64"/>
<rect x="1227" y="533" width="6" height="46"/>
<rect x="1237" y="559" width="2" height="44"/>
<rect x="1235" y="577" width="6" height="2"/>
<rect x="1245" y="533" width="2" height="84"/>
<rect x="1243" y="579" width="6" height="22"/>
<rect x="1252" y="595" width="2" height="39"/>
<rect x="1250" y="601" width="6" height="27"/>
<rect x="1260" y="608" width="2" height="30"/>
<rect x="1258" y="627" width="6" height="4"/>
<rect x="1268" y="615" width="2" height="41"/>
<rect x="1266" y="630" width="6" height="8"/>
<rect x="1275" y="606" width="2" height="65"/>
<rect x="1273" y="637" width="6" height="17"/>
<rect x="1291" y="636" width="2" height="65"/>
<rect x="1289" y="636" width="6" height="37"/>
<rect x="1299" y="659" width="2" height="59"/>
<rect x="1297" y="673" width="6" height="37"/>
<rect x="1306" y="699" width="2" height="70"/>
<rect x="1304" y="709" width="6" height="18"/>
<rect x="1337" y="620" width="2" height="39"/>
<rect x="1335" y="633" width="6" height="9"/>
<rect x="1353" y="631" width="2" height="20"/>
<rect x="1351" y="635" width="6" height="8"/>
<rect x="1361" y="617" width="2" height="39"/>
<rect x="1359" y="642" width="6" height="8"/>
<rect x="1376" y="637" width="2" height="21"/>
<rect x="1374" y="642" width="6" height="16"/>
<rect x="1384" y="655" width="2" height="60"/>
<rect x="1382" y="657" width="6" height="43"/>
<rect x="1407" y="637" width="2" height="49"/>
<rect x="1405" y="643" width="6" height="35"/>
<rect x="1415" y="671" width="2" height="34"/>
<rect x="1413" y="678" width="6" height="20"/>
<rect x="1423" y="692" width="2" height="12"/>
<rect x="1421" y="697" width="6" height="2"/>
<rect x="1454" y="672" width="2" height="26"/>
<rect x="1452" y="674" width="6" height="22"/>
<rect x="1461" y="690" width="2" height="27"/>
<rect x="1459" y="695" width="6" height="4"/>
<rect x="1469" y="693" width="2" height="27"/>
<rect x="1467" y="698" width="6" height="10"/>
<rect x="1484" y="699" width="2" height="26"/>
<rect x="1482" y="703" width="6" height="13"/>
<rect x="1492" y="704" width="2" height="48"/>
<rect x="1490" y="716" width="6" height="28"/>
<rect x="1508" y="713" width="2" height="47"/>
<rect x="1506" y="733" width="6" height="22"/>
<rect x="1515" y="731" width="2" height="45"/>
<rect x="1513" y="755" width="6" height="20"/>
<rect x="1539" y="726" width="2" height="18"/>
<rect x="1537" y="731" width="6" height="5"/>
<rect x="1546" y="726" width="2" height="19"/>
<rect x="1544" y="735" width="6" height="6"/>
<rect x="1554" y="739" width="2" height="16"/>
<rect x="1552" y="741" width="6" height="12"/>
<rect x="1562" y="750" width="2" height="14"/>
<rect x="1560" y="752" width="6" height="3"/>
<rect x="1570" y="746" width="2" height="20"/>
<rect x="1568" y="755" width="6" height="11"/>
<rect x="1593" y="750" width="2" height="8"/>
<rect x="1591" y="753" width="6" height="2"/>
<rect x="1601" y="737" width="2" height="24"/>
<rect x="1599" y="754" width="6" height="6"/>
<rect x="1616" y="748" width="2" height="24"/>
<rect x="1614" y="749" width="6" height="14"/>
<rect x="1662" y="569" width="2" height="72"/>
<rect x="1660" y="593" width="6" height="15"/>
<rect x="1670" y="602" width="2" height="56"/>
<rect x="1668" y="607" width="6" height="47"/>
<rect x="1678" y="645" width="2" height="42"/>
<rect x="1676" y="654" width="6" height="15"/>
<rect x="1686" y="655" width="2" height="31"/>
<rect x="1684" y="669" width="6" height="9"/>
<rect x="1693" y="672" width="2" height="10"/>
<rect x="1691" y="676" width="6" height="2"/>
<rect x="1701" y="673" width="2" height="20"/>
<rect x="1699" y="680" width="6" height="5"/>
<rect x="1709" y="674" width="2" height="22"/>
<rect x="1707" y="683" width="6" height="8"/>
<rect x="1724" y="645" width="2" height="27"/>
<rect x="1722" y="654" width="6" height="9"/>
<rect x="1732" y="661" width="2" height="29"/>
<rect x="1730" y="663" width="6" height="20"/>
<rect x="1740" y="680" width="2" height="10"/>
<rect x="1738" y="683" width="6" height="4"/>
</g>
<line x1="20" x2="1904" y1="687" y2="687" stroke="#F03030" stroke-width="2" stroke-dasharray="2 4"/>
</g>
<g clip-path="url(#cr)">
<rect x="21" y="1075" width="1883" height="73" fill="#F2EEF9"/>
<g stroke-width="2" stroke-dasharray="10 12" fill="none">
<line x1="20" x2="1904" y1="1075" y2="1075" stroke="#787B86"/>
<line x1="20" x2="1904" y1="1148" y2="1148" stroke="#787B86"/>
<line x1="20" x2="1904" y1="1104" y2="1104" stroke="#B9BBC1"/>
</g>
<path d="M263.0 1075.0 L270.8 1071.3 L278.5 1064.4 L286.3 1063.9 L294.0 1061.6 L301.7 1059.3 L309.5 1062.5 L317.2 1059.7 L325.0 1054.6 L332.7 1058.6 L340.4 1058.6 L348.2 1058.1 L355.9 1056.9 L363.7 1056.9 L371.4 1075.0 L379.1 1075.0 L379.1 1075 L263.0 1075 Z" fill="url(#gg)"/>
<text x="35.0" y="1082.2" font-size="24" fill="#131722" textLength="162.5" lengthAdjust="spacingAndGlyphs" >RSI (14, close)</text>
<text x="211.6" y="1082.2" font-size="24" fill="#7E57C2" textLength="60.0" lengthAdjust="spacingAndGlyphs" >50.77</text>
<text x="288.6" y="1082.2" font-size="24" fill="#FDD835" textLength="60.0" lengthAdjust="spacingAndGlyphs" >57.72</text>
<path d="M15.4 1107.2 L23.1 1102.2 L30.8 1095.7 L38.6 1096.9 L46.3 1102.2 L54.1 1112.0 L61.8 1117.8 L69.5 1118.9 L77.3 1113.8 L85.0 1103.1 L92.8 1113.6 L100.5 1111.5 L108.2 1112.4 L116.0 1118.9 L123.7 1127.0 L131.5 1133.5 L139.2 1107.3 L146.9 1103.1 L154.7 1103.8 L162.4 1114.3 L170.2 1108.5 L177.9 1102.7 L185.6 1100.4 L193.4 1096.4 L201.1 1105.0 L208.9 1097.3 L216.6 1095.0 L224.3 1099.9 L232.1 1100.4 L239.8 1094.1 L247.6 1093.9 L255.3 1087.6 L263.0 1078.3 L270.8 1071.3 L278.5 1064.4 L286.3 1063.9 L294.0 1061.6 L301.7 1059.3 L309.5 1062.5 L317.2 1059.7 L325.0 1054.6 L332.7 1058.6 L340.4 1058.6 L348.2 1058.1 L355.9 1056.9 L363.7 1056.9 L371.4 1082.9 L379.1 1086.4 L386.9 1087.1 L394.6 1085.7 L402.4 1082.5 L410.1 1091.5 L417.8 1091.5 L425.6 1094.1 L433.3 1100.8 L441.1 1105.7 L448.8 1120.8 L456.5 1105.0 L464.3 1096.9 L472.0 1104.3 L479.8 1102.2 L487.5 1085.3 L495.2 1087.6 L503.0 1091.1 L510.7 1093.9 L518.5 1096.9 L526.2 1090.4 L533.9 1089.9 L541.7 1103.8 L549.4 1103.8 L557.2 1101.5 L564.9 1103.1 L572.6 1105.5 L580.4 1121.2 L588.1 1112.4 L595.9 1119.6 L603.6 1102.0 L611.3 1104.3 L619.1 1105.7 L626.8 1116.6 L634.6 1104.5 L642.3 1108.0 L650.0 1108.0 L657.8 1118.5 L665.5 1118.5 L673.3 1121.7 L681.0 1123.1 L688.7 1112.4 L696.5 1113.8 L704.2 1117.8 L712.0 1115.4 L719.7 1115.4 L727.4 1106.2 L735.2 1098.7 L742.9 1101.0 L750.7 1098.0 L758.4 1093.4 L766.1 1088.1 L773.9 1086.9 L781.6 1096.4 L789.4 1100.4 L797.1 1096.4 L804.8 1092.2 L812.6 1093.4 L820.3 1102.7 L828.1 1105.0 L835.8 1105.7 L843.5 1120.1 L851.3 1123.6 L859.0 1108.5 L866.8 1127.5 L874.5 1121.7 L882.2 1118.5 L890.0 1109.6 L897.7 1108.0 L905.5 1112.0 L913.2 1100.4 L920.9 1092.2 L928.7 1091.8 L936.4 1099.9 L944.2 1099.9 L951.9 1097.6 L959.6 1113.8 L967.4 1110.1 L975.1 1118.9 L982.9 1158.8 L990.6 1156.1 L998.3 1131.7 L1006.1 1121.7 L1013.8 1128.9 L1021.6 1135.2 L1029.3 1142.6 L1037.0 1145.4 L1044.8 1134.5 L1052.5 1130.5 L1060.3 1117.1 L1068.0 1122.9 L1075.7 1127.7 L1083.5 1122.9 L1091.2 1110.8 L1099.0 1102.7 L1106.7 1098.7 L1114.4 1099.9 L1122.2 1102.7 L1129.9 1107.8 L1137.7 1118.5 L1145.4 1110.3 L1153.1 1110.3 L1160.9 1108.0 L1168.6 1128.2 L1176.4 1137.5 L1184.1 1118.9 L1191.8 1128.7 L1199.6 1117.3 L1207.3 1119.4 L1215.1 1111.5 L1222.8 1099.2 L1230.5 1108.0 L1238.3 1108.9 L1246.0 1113.8 L1253.8 1120.1 L1261.5 1120.8 L1269.2 1122.4 L1277.0 1127.0 L1284.7 1119.6 L1292.5 1129.4 L1300.2 1138.7 L1307.9 1142.8 L1315.7 1142.8 L1323.4 1124.7 L1331.2 1106.2 L1338.9 1108.5 L1346.6 1106.6 L1354.4 1108.5 L1362.1 1110.8 L1369.9 1108.0 L1377.6 1113.1 L1385.3 1125.9 L1393.1 1109.6 L1400.8 1105.5 L1408.6 1114.7 L1416.3 1120.5 L1424.0 1120.8 L1431.8 1118.9 L1439.5 1114.3 L1447.3 1110.3 L1455.0 1117.3 L1462.7 1118.5 L1470.5 1121.7 L1478.2 1118.9 L1486.0 1124.7 L1493.7 1134.5 L1501.4 1127.7 L1509.2 1136.3 L1516.9 1142.8 L1524.7 1121.2 L1532.4 1117.1 L1540.1 1118.5 L1547.9 1121.2 L1555.6 1125.4 L1563.4 1127.5 L1571.1 1131.2 L1578.8 1128.2 L1586.6 1120.8 L1594.3 1122.4 L1602.1 1124.7 L1609.8 1118.2 L1617.5 1123.6 L1625.3 1114.3 L1633.0 1094.1 L1640.8 1092.7 L1648.5 1085.3 L1656.2 1069.7 L1664.0 1074.8 L1671.7 1089.2 L1679.5 1093.9 L1687.2 1096.4 L1694.9 1096.9 L1702.7 1099.2 L1710.4 1102.0 L1718.2 1090.4 L1725.9 1093.4 L1733.6 1100.4 L1741.4 1102.7" fill="none" stroke="#7E57C2" stroke-width="2" stroke-linejoin="round"/>
<path d="M20.9 1114.7 C25.1 1114.4 38.3 1113.1 46.4 1112.4 C54.5 1111.8 60.0 1111.4 69.6 1110.8 C79.3 1110.2 95.9 1109.1 104.5 1108.9 C113.0 1108.7 114.9 1108.9 120.7 1109.6 C126.5 1110.3 132.3 1112.3 139.3 1113.1 C146.2 1113.9 154.8 1114.6 162.5 1114.3 C170.2 1114.0 178.0 1112.5 185.7 1111.5 C193.4 1110.5 201.2 1109.6 208.9 1108.5 C216.7 1107.3 226.3 1105.7 232.1 1104.5 C237.9 1103.4 238.7 1102.6 243.7 1101.5 C248.8 1100.4 256.5 1099.6 262.3 1098.0 C268.1 1096.5 272.0 1094.7 278.6 1092.2 C285.1 1089.7 294.0 1085.9 301.8 1082.9 C309.5 1080.0 319.2 1076.3 325.0 1074.4 C330.8 1072.5 332.7 1072.6 336.6 1071.6 C340.5 1070.5 344.7 1069.2 348.2 1068.1 C351.7 1067.0 354.4 1066.0 357.5 1065.1 C360.6 1064.1 362.5 1062.5 366.8 1062.3 C371.0 1062.1 376.4 1062.8 383.0 1063.9 C389.6 1065.0 399.3 1067.4 406.2 1069.0 C413.2 1070.6 419.0 1071.5 424.8 1073.7 C430.6 1075.8 435.2 1079.3 441.0 1081.8 C446.9 1084.3 454.9 1086.6 460.0 1088.7 C465.1 1090.9 467.7 1093.3 471.6 1094.5 C475.5 1095.8 477.4 1095.8 483.2 1096.2 C489.0 1096.6 498.7 1096.6 506.4 1096.9 C514.2 1097.1 523.1 1097.5 529.6 1097.6 C536.2 1097.7 540.5 1097.8 545.9 1097.6 C551.3 1097.3 556.3 1096.1 562.1 1096.2 C567.9 1096.3 574.5 1097.1 580.7 1098.0 C586.9 1098.9 592.3 1100.4 599.3 1101.5 C606.2 1102.7 614.8 1104.0 622.5 1105.0 C630.2 1106.0 638.7 1106.8 645.7 1107.8 C652.7 1108.7 658.5 1110.0 664.3 1110.8 C670.1 1111.6 674.7 1112.4 680.5 1112.7 C686.3 1112.9 693.3 1112.2 699.1 1112.4 C704.9 1112.6 711.1 1113.5 715.3 1113.8 C719.6 1114.1 720.8 1114.5 724.6 1114.3 C728.5 1114.1 733.1 1113.2 738.6 1112.7 C744.0 1112.1 751.3 1111.7 757.1 1110.8 C762.9 1109.9 768.0 1108.6 773.4 1107.3 C778.8 1106.1 783.8 1104.7 789.6 1103.4 C795.4 1102.0 802.8 1100.2 808.2 1099.2 C813.6 1098.2 817.5 1097.7 822.1 1097.3 C826.8 1096.9 830.6 1096.4 836.0 1096.9 C841.5 1097.3 848.4 1098.6 854.6 1099.9 C860.8 1101.2 867.4 1103.2 873.2 1104.5 C879.0 1105.9 881.6 1107.0 889.4 1108.0 C897.2 1109.0 911.0 1110.2 920.0 1110.3 C929.0 1110.5 937.0 1109.5 943.2 1108.9 C949.4 1108.4 952.1 1107.2 957.1 1106.9 C962.2 1106.5 968.0 1106.1 973.4 1106.6 C978.8 1107.2 983.1 1108.9 989.6 1110.1 C996.2 1111.3 1007.0 1112.4 1012.9 1113.6 C1018.7 1114.8 1020.6 1115.8 1024.5 1117.3 C1028.3 1118.8 1031.4 1120.6 1036.1 1122.4 C1040.7 1124.2 1047.7 1126.9 1052.3 1128.2 C1057.0 1129.6 1058.9 1129.7 1063.9 1130.5 C1068.9 1131.4 1076.3 1134.0 1082.5 1133.3 C1088.7 1132.6 1095.3 1128.3 1101.1 1126.4 C1106.9 1124.4 1111.9 1123.1 1117.3 1121.7 C1122.7 1120.3 1128.5 1119.1 1133.6 1117.8 C1138.6 1116.4 1142.8 1114.9 1147.5 1113.8 C1152.1 1112.7 1156.8 1111.5 1161.4 1111.3 C1166.1 1111.1 1169.1 1112.3 1175.3 1112.7 C1181.5 1113.0 1192.4 1112.8 1198.6 1113.1 C1204.7 1113.5 1207.4 1114.4 1212.5 1114.7 C1217.5 1115.1 1223.3 1115.4 1228.7 1115.4 C1234.1 1115.5 1238.4 1114.6 1245.0 1115.0 C1251.6 1115.4 1262.0 1117.5 1268.2 1117.8 C1274.4 1118.0 1276.7 1116.5 1282.1 1116.6 C1287.5 1116.7 1295.3 1117.5 1300.7 1118.2 C1306.1 1118.9 1310.0 1120.1 1314.6 1120.8 C1319.3 1121.5 1322.7 1122.2 1328.5 1122.4 C1334.3 1122.6 1340.9 1122.4 1349.4 1121.9 C1358.0 1121.5 1371.0 1120.6 1380.0 1119.6 C1389.0 1118.6 1396.6 1117.0 1403.2 1115.9 C1409.8 1114.8 1414.4 1113.7 1419.5 1113.1 C1424.5 1112.6 1427.6 1112.4 1433.4 1112.7 C1439.2 1112.9 1446.9 1114.1 1454.3 1114.7 C1461.6 1115.4 1470.9 1116.1 1477.5 1116.6 C1484.1 1117.1 1489.1 1117.1 1493.7 1117.8 C1498.4 1118.4 1501.1 1119.7 1505.3 1120.5 C1509.6 1121.4 1513.1 1122.5 1519.3 1122.9 C1525.5 1123.3 1536.3 1122.6 1542.5 1122.9 C1548.7 1123.1 1551.4 1123.7 1556.4 1124.3 C1561.4 1124.8 1567.2 1126.0 1572.7 1126.4 C1578.1 1126.7 1583.1 1126.7 1588.9 1126.6 C1594.7 1126.4 1601.7 1126.0 1607.5 1125.4 C1613.3 1124.8 1617.2 1124.6 1623.7 1123.1 C1630.3 1121.6 1640.0 1118.8 1646.9 1116.1 C1653.9 1113.5 1659.7 1109.9 1665.5 1107.3 C1671.3 1104.8 1675.2 1102.8 1681.8 1100.8 C1688.3 1098.9 1699.2 1096.9 1705.0 1095.7 C1710.8 1094.5 1712.7 1094.2 1716.6 1093.4 C1720.5 1092.6 1725.1 1091.5 1728.2 1091.1 C1731.3 1090.6 1733.2 1090.5 1735.2 1090.6 C1737.1 1090.7 1739.0 1091.4 1739.8 1091.5" fill="none" stroke="#FDD835" stroke-width="2"/>
</g>
<g clip-path="url(#cm)">
<text x="35.0" y="1213.4" font-size="24" fill="#131722" textLength="238.5" lengthAdjust="spacingAndGlyphs" >MACD (12, 26, close)</text>
<text x="287.0" y="1213.4" font-size="24" fill="#FF5252" textLength="88.0" lengthAdjust="spacingAndGlyphs" >−0.0011</text>
<text x="389.3" y="1213.4" font-size="24" fill="#2962FF" textLength="79.8" lengthAdjust="spacingAndGlyphs" >0.0323</text>
<text x="481.8" y="1213.4" font-size="24" fill="#F23645" textLength="81.7" lengthAdjust="spacingAndGlyphs" >0.0334</text>
<g fill="#26A69A">
<rect x="20" y="1260" width="6" height="2"/>
<rect x="27" y="1260" width="6" height="2"/>
<rect x="35" y="1259" width="6" height="3"/>
<rect x="151" y="1260" width="6" height="2"/>
<rect x="167" y="1260" width="6" height="2"/>
<rect x="174" y="1260" width="6" height="2"/>
<rect x="182" y="1259" width="6" height="3"/>
<rect x="190" y="1258" width="6" height="4"/>
<rect x="205" y="1258" width="6" height="4"/>
<rect x="213" y="1258" width="6" height="4"/>
<rect x="236" y="1259" width="6" height="3"/>
<rect x="244" y="1258" width="6" height="4"/>
<rect x="252" y="1258" width="6" height="4"/>
<rect x="260" y="1256" width="6" height="6"/>
<rect x="267" y="1254" width="6" height="8"/>
<rect x="275" y="1250" width="6" height="12"/>
<rect x="283" y="1248" width="6" height="14"/>
<rect x="291" y="1247" width="6" height="15"/>
<rect x="298" y="1244" width="6" height="18"/>
<rect x="314" y="1244" width="6" height="18"/>
<rect x="321" y="1239" width="6" height="23"/>
<rect x="329" y="1238" width="6" height="24"/>
<rect x="732" y="1259" width="6" height="3"/>
<rect x="739" y="1258" width="6" height="4"/>
<rect x="747" y="1257" width="6" height="5"/>
<rect x="755" y="1255" width="6" height="7"/>
<rect x="763" y="1254" width="6" height="8"/>
<rect x="770" y="1253" width="6" height="9"/>
<rect x="917" y="1259" width="6" height="3"/>
<rect x="925" y="1258" width="6" height="4"/>
<rect x="1088" y="1259" width="6" height="3"/>
<rect x="1095" y="1256" width="6" height="6"/>
<rect x="1103" y="1254" width="6" height="8"/>
<rect x="1111" y="1252" width="6" height="10"/>
<rect x="1119" y="1252" width="6" height="10"/>
<rect x="1219" y="1259" width="6" height="3"/>
<rect x="1227" y="1258" width="6" height="4"/>
<rect x="1235" y="1258" width="6" height="4"/>
<rect x="1335" y="1260" width="6" height="2"/>
<rect x="1343" y="1258" width="6" height="4"/>
<rect x="1351" y="1257" width="6" height="5"/>
<rect x="1359" y="1257" width="6" height="5"/>
<rect x="1366" y="1256" width="6" height="6"/>
<rect x="1390" y="1259" width="6" height="3"/>
<rect x="1397" y="1258" width="6" height="4"/>
<rect x="1428" y="1260" width="6" height="2"/>
<rect x="1436" y="1260" width="6" height="2"/>
<rect x="1444" y="1260" width="6" height="2"/>
<rect x="1475" y="1260" width="6" height="2"/>
<rect x="1544" y="1260" width="6" height="2"/>
<rect x="1583" y="1260" width="6" height="2"/>
<rect x="1591" y="1260" width="6" height="2"/>
<rect x="1599" y="1260" width="6" height="2"/>
<rect x="1606" y="1260" width="6" height="2"/>
<rect x="1622" y="1259" width="6" height="3"/>
<rect x="1630" y="1257" width="6" height="5"/>
<rect x="1637" y="1256" width="6" height="6"/>
<rect x="1645" y="1254" width="6" height="8"/>
<rect x="1653" y="1250" width="6" height="12"/>
<rect x="1660" y="1248" width="6" height="14"/>
<rect x="1715" y="1259" width="6" height="3"/>
</g>
<g fill="#B2DFDB">
<rect x="43" y="1259" width="6" height="3"/>
<rect x="51" y="1260" width="6" height="2"/>
<rect x="159" y="1260" width="6" height="2"/>
<rect x="198" y="1259" width="6" height="3"/>
<rect x="221" y="1258" width="6" height="4"/>
<rect x="229" y="1259" width="6" height="3"/>
<rect x="306" y="1245" width="6" height="17"/>
<rect x="337" y="1239" width="6" height="23"/>
<rect x="345" y="1241" width="6" height="21"/>
<rect x="352" y="1242" width="6" height="20"/>
<rect x="360" y="1244" width="6" height="18"/>
<rect x="368" y="1252" width="6" height="10"/>
<rect x="376" y="1259" width="6" height="3"/>
<rect x="778" y="1255" width="6" height="7"/>
<rect x="786" y="1256" width="6" height="6"/>
<rect x="794" y="1257" width="6" height="5"/>
<rect x="801" y="1257" width="6" height="5"/>
<rect x="809" y="1258" width="6" height="4"/>
<rect x="817" y="1260" width="6" height="2"/>
<rect x="933" y="1259" width="6" height="3"/>
<rect x="941" y="1259" width="6" height="3"/>
<rect x="948" y="1259" width="6" height="3"/>
<rect x="956" y="1260" width="6" height="2"/>
<rect x="1126" y="1253" width="6" height="9"/>
<rect x="1134" y="1256" width="6" height="6"/>
<rect x="1142" y="1256" width="6" height="6"/>
<rect x="1150" y="1257" width="6" height="5"/>
<rect x="1157" y="1257" width="6" height="5"/>
<rect x="1165" y="1260" width="6" height="2"/>
<rect x="1243" y="1259" width="6" height="3"/>
<rect x="1250" y="1260" width="6" height="2"/>
<rect x="1374" y="1257" width="6" height="5"/>
<rect x="1382" y="1260" width="6" height="2"/>
<rect x="1405" y="1260" width="6" height="2"/>
<rect x="1413" y="1260" width="6" height="2"/>
<rect x="1421" y="1260" width="6" height="2"/>
<rect x="1452" y="1260" width="6" height="2"/>
<rect x="1459" y="1260" width="6" height="2"/>
<rect x="1467" y="1260" width="6" height="2"/>
<rect x="1552" y="1260" width="6" height="2"/>
<rect x="1560" y="1260" width="6" height="2"/>
<rect x="1614" y="1260" width="6" height="2"/>
<rect x="1668" y="1251" width="6" height="11"/>
<rect x="1676" y="1252" width="6" height="10"/>
<rect x="1684" y="1255" width="6" height="7"/>
<rect x="1691" y="1257" width="6" height="5"/>
<rect x="1699" y="1258" width="6" height="4"/>
<rect x="1707" y="1259" width="6" height="3"/>
<rect x="1722" y="1259" width="6" height="3"/>
<rect x="1730" y="1260" width="6" height="2"/>
</g>
<g fill="#FF5252">
<rect x="58" y="1260" width="6" height="2"/>
<rect x="66" y="1260" width="6" height="2"/>
<rect x="89" y="1260" width="6" height="2"/>
<rect x="105" y="1260" width="6" height="2"/>
<rect x="112" y="1260" width="6" height="3"/>
<rect x="120" y="1260" width="6" height="3"/>
<rect x="128" y="1260" width="6" height="4"/>
<rect x="383" y="1260" width="6" height="4"/>
<rect x="391" y="1260" width="6" height="7"/>
<rect x="399" y="1260" width="6" height="9"/>
<rect x="407" y="1260" width="6" height="11"/>
<rect x="414" y="1260" width="6" height="13"/>
<rect x="422" y="1260" width="6" height="14"/>
<rect x="430" y="1260" width="6" height="16"/>
<rect x="438" y="1260" width="6" height="18"/>
<rect x="445" y="1260" width="6" height="21"/>
<rect x="515" y="1260" width="6" height="4"/>
<rect x="538" y="1260" width="6" height="4"/>
<rect x="546" y="1260" width="6" height="6"/>
<rect x="554" y="1260" width="6" height="6"/>
<rect x="561" y="1260" width="6" height="7"/>
<rect x="569" y="1260" width="6" height="7"/>
<rect x="577" y="1260" width="6" height="10"/>
<rect x="585" y="1260" width="6" height="10"/>
<rect x="592" y="1260" width="6" height="11"/>
<rect x="623" y="1260" width="6" height="7"/>
<rect x="654" y="1260" width="6" height="7"/>
<rect x="662" y="1260" width="6" height="7"/>
<rect x="670" y="1260" width="6" height="8"/>
<rect x="678" y="1260" width="6" height="9"/>
<rect x="840" y="1260" width="6" height="4"/>
<rect x="848" y="1260" width="6" height="6"/>
<rect x="863" y="1260" width="6" height="7"/>
<rect x="871" y="1260" width="6" height="8"/>
<rect x="972" y="1260" width="6" height="3"/>
<rect x="979" y="1260" width="6" height="10"/>
<rect x="987" y="1260" width="6" height="14"/>
<rect x="1018" y="1260" width="6" height="11"/>
<rect x="1026" y="1260" width="6" height="13"/>
<rect x="1034" y="1260" width="6" height="13"/>
<rect x="1173" y="1260" width="6" height="4"/>
<rect x="1188" y="1260" width="6" height="6"/>
<rect x="1258" y="1260" width="6" height="2"/>
<rect x="1266" y="1260" width="6" height="3"/>
<rect x="1273" y="1260" width="6" height="4"/>
<rect x="1289" y="1260" width="6" height="4"/>
<rect x="1297" y="1260" width="6" height="6"/>
<rect x="1304" y="1260" width="6" height="8"/>
<rect x="1312" y="1260" width="6" height="8"/>
<rect x="1482" y="1260" width="6" height="3"/>
<rect x="1490" y="1260" width="6" height="4"/>
<rect x="1498" y="1260" width="6" height="4"/>
<rect x="1506" y="1260" width="6" height="5"/>
<rect x="1513" y="1260" width="6" height="6"/>
<rect x="1568" y="1260" width="6" height="2"/>
<rect x="1738" y="1260" width="6" height="3"/>
</g>
<g fill="#FFCDD2">
<rect x="74" y="1260" width="6" height="2"/>
<rect x="82" y="1260" width="6" height="2"/>
<rect x="97" y="1260" width="6" height="2"/>
<rect x="136" y="1260" width="6" height="3"/>
<rect x="143" y="1260" width="6" height="2"/>
<rect x="453" y="1260" width="6" height="19"/>
<rect x="461" y="1260" width="6" height="17"/>
<rect x="469" y="1260" width="6" height="15"/>
<rect x="476" y="1260" width="6" height="14"/>
<rect x="484" y="1260" width="6" height="9"/>
<rect x="492" y="1260" width="6" height="4"/>
<rect x="499" y="1260" width="6" height="3"/>
<rect x="507" y="1260" width="6" height="3"/>
<rect x="523" y="1260" width="6" height="2"/>
<rect x="530" y="1260" width="6" height="2"/>
<rect x="600" y="1260" width="6" height="8"/>
<rect x="608" y="1260" width="6" height="7"/>
<rect x="616" y="1260" width="6" height="7"/>
<rect x="631" y="1260" width="6" height="4"/>
<rect x="639" y="1260" width="6" height="3"/>
<rect x="647" y="1260" width="6" height="3"/>
<rect x="685" y="1260" width="6" height="7"/>
<rect x="693" y="1260" width="6" height="5"/>
<rect x="701" y="1260" width="6" height="5"/>
<rect x="708" y="1260" width="6" height="4"/>
<rect x="716" y="1260" width="6" height="3"/>
<rect x="724" y="1260" width="6" height="2"/>
<rect x="825" y="1260" width="6" height="2"/>
<rect x="832" y="1260" width="6" height="2"/>
<rect x="856" y="1260" width="6" height="3"/>
<rect x="879" y="1260" width="6" height="7"/>
<rect x="886" y="1260" width="6" height="5"/>
<rect x="894" y="1260" width="6" height="4"/>
<rect x="902" y="1260" width="6" height="4"/>
<rect x="910" y="1260" width="6" height="2"/>
<rect x="964" y="1260" width="6" height="2"/>
<rect x="995" y="1260" width="6" height="13"/>
<rect x="1003" y="1260" width="6" height="11"/>
<rect x="1010" y="1260" width="6" height="11"/>
<rect x="1041" y="1260" width="6" height="10"/>
<rect x="1049" y="1260" width="6" height="8"/>
<rect x="1057" y="1260" width="6" height="6"/>
<rect x="1065" y="1260" width="6" height="4"/>
<rect x="1072" y="1260" width="6" height="3"/>
<rect x="1080" y="1260" width="6" height="2"/>
<rect x="1181" y="1260" width="6" height="4"/>
<rect x="1196" y="1260" width="6" height="4"/>
<rect x="1204" y="1260" width="6" height="4"/>
<rect x="1212" y="1260" width="6" height="2"/>
<rect x="1281" y="1260" width="6" height="3"/>
<rect x="1320" y="1260" width="6" height="6"/>
<rect x="1328" y="1260" width="6" height="2"/>
<rect x="1521" y="1260" width="6" height="5"/>
<rect x="1529" y="1260" width="6" height="3"/>
<rect x="1537" y="1260" width="6" height="2"/>
<rect x="1575" y="1260" width="6" height="2"/>
</g>
<line x1="20" x2="1904" y1="1261" y2="1261" stroke="#787B86" stroke-opacity="0.5" stroke-width="2" stroke-dasharray="10 12"/>
<path d="M20.9 1269.4 C24.4 1268.4 35.6 1264.0 41.8 1263.5 C48.0 1263.0 52.2 1265.6 58.0 1266.3 C63.8 1267.1 70.8 1268.0 76.6 1268.0 C82.4 1268.0 87.0 1266.4 92.9 1266.3 C98.7 1266.3 104.8 1266.6 111.4 1267.5 C118.0 1268.4 125.7 1271.5 132.3 1271.7 C138.9 1271.9 143.9 1269.4 150.9 1268.7 C157.8 1267.9 167.1 1267.8 174.1 1267.0 C181.1 1266.3 186.9 1264.8 192.7 1264.0 C198.5 1263.2 202.3 1263.0 208.9 1262.4 C215.5 1261.8 225.2 1261.3 232.1 1260.5 C239.1 1259.8 245.7 1258.9 250.7 1257.7 C255.7 1256.6 257.7 1256.2 262.3 1253.6 C266.9 1250.9 272.0 1246.6 278.6 1242.0 C285.1 1237.3 295.6 1229.8 301.8 1225.7 C308.0 1221.6 311.8 1221.1 315.7 1217.6 C319.6 1214.1 321.5 1208.5 325.0 1204.8 C328.5 1201.1 331.6 1198.3 336.6 1195.5 C341.6 1192.7 350.6 1189.7 355.2 1188.1 C359.7 1186.6 360.3 1185.0 363.7 1186.2 C367.2 1187.5 370.9 1192.4 376.0 1195.5 C381.2 1198.6 389.2 1201.9 394.6 1204.8 C400.0 1207.7 403.5 1209.9 408.5 1212.9 C413.6 1216.0 419.4 1219.2 424.8 1222.9 C430.2 1226.6 436.8 1231.6 441.0 1235.0 C445.3 1238.4 447.2 1241.3 450.3 1243.1 C453.5 1244.9 456.8 1245.0 460.0 1245.9 C463.2 1246.8 466.0 1247.6 469.3 1248.5 C472.6 1249.3 475.5 1251.6 479.7 1250.8 C484.0 1250.0 490.4 1245.1 494.8 1243.8 C499.3 1242.5 502.6 1243.0 506.4 1243.1 C510.3 1243.2 513.4 1244.3 518.0 1244.3 C522.7 1244.3 529.3 1242.5 534.3 1243.1 C539.3 1243.7 542.4 1246.2 548.2 1247.8 C554.0 1249.3 563.3 1250.5 569.1 1252.4 C574.9 1254.3 578.4 1257.4 583.0 1259.4 C587.7 1261.4 592.3 1263.9 597.0 1264.5 C601.6 1265.1 607.0 1263.0 610.9 1262.9 C614.8 1262.7 617.5 1263.0 620.2 1263.5 C622.9 1264.1 624.4 1265.9 627.1 1266.3 C629.8 1266.7 632.5 1265.8 636.4 1265.9 C640.3 1266.0 645.7 1266.2 650.3 1267.0 C655.0 1267.9 659.2 1269.5 664.3 1271.0 C669.3 1272.4 673.9 1274.8 680.5 1275.6 C687.1 1276.4 696.8 1275.8 703.7 1275.6 C710.7 1275.4 717.3 1275.2 722.3 1274.5 C727.3 1273.7 729.3 1272.3 733.9 1271.0 C738.6 1269.6 744.7 1268.3 750.2 1266.3 C755.6 1264.4 762.2 1260.9 766.4 1259.4 C770.7 1257.8 771.8 1257.4 775.7 1257.0 C779.6 1256.7 785.4 1257.3 789.6 1257.0 C793.9 1256.8 797.4 1255.9 801.2 1255.4 C805.1 1254.9 808.6 1254.0 812.8 1254.0 C817.1 1254.1 822.1 1255.3 826.8 1255.9 C831.4 1256.5 836.8 1256.7 840.7 1257.7 C844.6 1258.8 846.9 1261.5 850.0 1262.4 C853.1 1263.2 856.2 1262.2 859.3 1262.9 C862.4 1263.5 865.4 1265.2 868.5 1266.3 C871.6 1267.5 874.3 1269.2 877.8 1269.8 C881.3 1270.4 884.8 1270.0 889.4 1269.8 C894.1 1269.6 900.6 1269.8 905.7 1268.7 C910.8 1267.5 915.7 1264.2 920.0 1262.9 C924.3 1261.5 926.6 1261.1 931.6 1260.5 C936.6 1259.9 945.1 1259.2 950.2 1259.4 C955.2 1259.6 957.5 1260.9 961.8 1261.7 C966.0 1262.5 972.2 1262.3 975.7 1264.0 C979.2 1265.8 980.0 1269.3 982.7 1272.1 C985.4 1275.0 989.3 1279.1 992.0 1281.0 C994.7 1282.8 996.6 1282.7 998.9 1283.0 C1001.2 1283.4 1002.8 1282.7 1005.9 1283.3 C1009.0 1283.9 1013.6 1285.3 1017.5 1286.8 C1021.4 1288.2 1025.6 1290.6 1029.1 1291.9 C1032.6 1293.2 1034.9 1294.2 1038.4 1294.7 C1041.9 1295.1 1045.7 1295.2 1050.0 1294.7 C1054.2 1294.1 1058.5 1292.3 1063.9 1291.4 C1069.3 1290.6 1077.5 1290.8 1082.5 1289.5 C1087.5 1288.3 1090.2 1285.7 1094.1 1283.7 C1098.0 1281.8 1101.8 1279.7 1105.7 1277.9 C1109.6 1276.2 1113.4 1274.4 1117.3 1273.3 C1121.2 1272.2 1125.4 1271.6 1128.9 1271.4 C1132.4 1271.2 1133.2 1272.3 1138.2 1272.1 C1143.2 1272.0 1154.4 1270.3 1159.1 1270.5 C1163.7 1270.7 1163.3 1272.1 1166.1 1273.3 C1168.8 1274.5 1171.1 1276.2 1175.3 1277.5 C1179.6 1278.7 1186.6 1280.2 1191.6 1280.7 C1196.6 1281.3 1201.6 1281.0 1205.5 1280.7 C1209.4 1280.5 1212.1 1280.0 1214.8 1279.1 C1217.5 1278.2 1217.5 1276.6 1221.8 1275.6 C1226.0 1274.7 1235.7 1273.5 1240.3 1273.3 C1245.0 1273.1 1246.1 1273.9 1249.6 1274.5 C1253.1 1275.0 1257.4 1276.1 1261.2 1276.8 C1265.1 1277.5 1269.0 1278.2 1272.8 1278.6 C1276.7 1279.1 1281.0 1278.9 1284.4 1279.6 C1287.9 1280.2 1290.2 1281.4 1293.7 1282.6 C1297.2 1283.8 1301.5 1285.7 1305.3 1286.8 C1309.2 1287.8 1313.8 1288.9 1316.9 1289.1 C1320.0 1289.3 1320.8 1289.0 1323.9 1287.9 C1327.0 1286.8 1331.3 1284.2 1335.5 1282.6 C1339.8 1280.9 1345.2 1279.1 1349.4 1277.9 C1353.7 1276.8 1355.9 1276.1 1361.0 1275.6 C1366.1 1275.2 1375.3 1275.3 1380.0 1275.2 C1384.7 1275.0 1385.8 1275.0 1389.3 1274.5 C1392.8 1273.9 1396.6 1271.9 1400.9 1271.7 C1405.1 1271.5 1409.8 1272.8 1414.8 1273.3 C1419.8 1273.8 1425.3 1274.5 1431.1 1274.5 C1436.9 1274.4 1442.7 1272.9 1449.6 1272.8 C1456.6 1272.7 1466.3 1273.2 1472.9 1273.8 C1479.4 1274.3 1484.1 1275.6 1489.1 1276.3 C1494.1 1277.0 1498.4 1277.2 1503.0 1277.9 C1507.7 1278.7 1512.3 1280.5 1517.0 1280.7 C1521.6 1280.9 1525.9 1279.6 1530.9 1279.1 C1535.9 1278.6 1540.6 1277.7 1547.1 1277.5 C1553.7 1277.3 1563.4 1278.1 1570.3 1277.9 C1577.3 1277.7 1582.7 1276.8 1588.9 1276.3 C1595.1 1275.8 1602.1 1275.6 1607.5 1275.2 C1612.9 1274.7 1616.8 1274.8 1621.4 1273.8 C1626.1 1272.7 1630.7 1270.5 1635.3 1268.7 C1640.0 1266.8 1645.4 1265.2 1649.3 1262.9 C1653.1 1260.5 1655.5 1256.8 1658.6 1254.7 C1661.6 1252.7 1664.0 1251.3 1667.8 1250.5 C1671.7 1249.8 1677.1 1250.0 1681.8 1250.1 C1686.4 1250.2 1691.0 1250.8 1695.7 1251.2 C1700.3 1251.7 1705.0 1252.8 1709.6 1252.9 C1714.3 1252.9 1719.7 1251.8 1723.5 1251.7 C1727.4 1251.6 1730.1 1252.1 1732.8 1252.4 C1735.5 1252.7 1738.6 1253.4 1739.8 1253.6" fill="none" stroke="#2962FF" stroke-width="2"/>
<path d="M20.9 1267.5 C25.1 1267.2 36.4 1265.8 46.4 1265.6 C56.5 1265.4 70.4 1266.2 81.2 1266.3 C92.1 1266.4 101.7 1265.8 111.4 1266.3 C121.1 1266.8 130.8 1269.0 139.3 1269.4 C147.8 1269.7 154.8 1269.0 162.5 1268.7 C170.2 1268.3 178.0 1267.8 185.7 1267.0 C193.4 1266.3 201.2 1264.9 208.9 1264.0 C216.7 1263.1 224.4 1262.5 232.1 1261.7 C239.9 1260.9 247.6 1260.7 255.3 1259.4 C263.1 1258.0 270.8 1256.4 278.6 1253.6 C286.3 1250.7 294.0 1246.9 301.8 1242.4 C309.5 1238.0 317.2 1232.2 325.0 1226.9 C332.7 1221.6 341.2 1214.9 348.2 1210.6 C355.2 1206.4 361.3 1203.1 366.8 1201.3 C372.2 1199.6 376.0 1200.0 380.7 1200.2 C385.3 1200.4 388.4 1200.8 394.6 1202.5 C400.8 1204.2 410.1 1207.3 417.8 1210.6 C425.6 1213.9 434.0 1219.1 441.0 1222.2 C448.1 1225.4 454.9 1227.5 460.0 1229.7 C465.1 1231.8 467.7 1233.4 471.6 1235.0 C475.5 1236.5 477.4 1237.9 483.2 1238.9 C489.0 1240.0 497.5 1240.9 506.4 1241.5 C515.3 1242.1 528.9 1242.0 536.6 1242.4 C544.3 1242.9 546.3 1243.3 552.9 1244.3 C559.4 1245.3 568.3 1246.7 576.1 1248.5 C583.8 1250.2 591.5 1252.9 599.3 1254.7 C607.0 1256.5 614.8 1258.0 622.5 1259.4 C630.2 1260.7 638.0 1261.5 645.7 1262.9 C653.4 1264.2 661.2 1266.1 668.9 1267.5 C676.7 1268.8 684.4 1270.0 692.1 1271.0 C699.9 1271.9 709.5 1272.9 715.3 1273.3 C721.1 1273.7 721.1 1273.9 726.9 1273.3 C732.7 1272.7 742.4 1271.2 750.2 1269.8 C757.9 1268.4 765.6 1266.3 773.4 1264.7 C781.1 1263.2 788.8 1261.7 796.6 1260.5 C804.3 1259.4 813.2 1258.3 819.8 1257.7 C826.4 1257.2 830.2 1256.7 836.0 1257.0 C841.8 1257.4 847.7 1258.8 854.6 1260.1 C861.6 1261.3 870.1 1263.6 877.8 1264.7 C885.6 1265.8 894.0 1266.6 901.0 1266.8 C908.1 1267.0 913.0 1266.4 920.0 1265.9 C927.0 1265.3 935.5 1263.9 943.2 1263.3 C951.0 1262.7 958.7 1261.5 966.4 1262.4 C974.2 1263.3 981.9 1266.3 989.6 1268.7 C997.4 1271.1 1005.1 1274.1 1012.9 1276.8 C1020.6 1279.4 1028.3 1282.4 1036.1 1284.4 C1043.8 1286.5 1051.5 1288.0 1059.3 1288.8 C1067.0 1289.7 1075.5 1289.9 1082.5 1289.5 C1089.5 1289.2 1094.1 1288.2 1101.1 1286.8 C1108.0 1285.3 1116.5 1282.7 1124.3 1281.0 C1132.0 1279.2 1140.9 1277.4 1147.5 1276.3 C1154.1 1275.2 1157.2 1274.4 1163.7 1274.5 C1170.3 1274.5 1179.2 1276.1 1186.9 1276.8 C1194.7 1277.4 1203.2 1278.4 1210.2 1278.4 C1217.1 1278.4 1222.2 1277.2 1228.7 1276.8 C1235.3 1276.3 1242.3 1275.6 1249.6 1275.6 C1257.0 1275.6 1265.9 1276.4 1272.8 1276.8 C1279.8 1277.2 1285.2 1277.2 1291.4 1277.9 C1297.6 1278.7 1304.2 1280.5 1310.0 1281.4 C1315.8 1282.4 1320.4 1283.5 1326.2 1283.7 C1332.0 1283.9 1339.0 1283.2 1344.8 1282.6 C1350.6 1282.0 1355.2 1281.0 1361.0 1280.3 C1366.9 1279.6 1373.0 1279.2 1380.0 1278.4 C1387.0 1277.6 1395.5 1276.2 1403.2 1275.6 C1411.0 1275.0 1418.7 1275.1 1426.4 1274.9 C1434.2 1274.7 1441.9 1274.6 1449.6 1274.5 C1457.4 1274.3 1465.1 1273.9 1472.9 1274.0 C1480.6 1274.1 1488.3 1274.5 1496.1 1274.9 C1503.8 1275.4 1511.5 1276.4 1519.3 1276.8 C1527.0 1277.2 1534.8 1277.4 1542.5 1277.5 C1550.2 1277.6 1558.0 1277.5 1565.7 1277.5 C1573.4 1277.4 1581.2 1277.5 1588.9 1277.2 C1596.7 1277.0 1605.2 1276.5 1612.1 1276.1 C1619.1 1275.6 1624.9 1275.3 1630.7 1274.5 C1636.5 1273.6 1642.3 1272.3 1646.9 1271.0 C1651.6 1269.6 1654.3 1268.0 1658.6 1266.3 C1662.8 1264.7 1667.8 1262.5 1672.5 1261.0 C1677.1 1259.5 1681.0 1258.4 1686.4 1257.5 C1691.8 1256.6 1698.8 1256.0 1705.0 1255.4 C1711.2 1254.8 1717.7 1254.3 1723.5 1254.0 C1729.4 1253.8 1737.1 1254.0 1739.8 1254.0" fill="none" stroke="#F23645" stroke-width="2"/>
</g>
<text x="184.4" y="1346.0" font-size="24" fill="#131722" textLength="33.1" lengthAdjust="spacingAndGlyphs" >Jul</text>
<text x="419.0" y="1346.0" font-size="24" fill="#131722" textLength="43.5" lengthAdjust="spacingAndGlyphs" >Aug</text>
<text x="658.6" y="1346.0" font-size="24" fill="#131722" textLength="43.9" lengthAdjust="spacingAndGlyphs" >Sep</text>
<text x="892.2" y="1346.0" font-size="24" fill="#131722" textLength="40.8" lengthAdjust="spacingAndGlyphs" >Oct</text>
<text x="1128.8" y="1346.0" font-size="24" fill="#131722" textLength="45.6" lengthAdjust="spacingAndGlyphs" >Nov</text>
<text x="1360.8" y="1346.0" font-size="24" fill="#131722" textLength="45.6" lengthAdjust="spacingAndGlyphs" >Dec</text>
<text x="1842.0" y="1346.0" font-size="24" fill="#131722" textLength="43.5" lengthAdjust="spacingAndGlyphs" >Feb</text>
<text x="1592.6" y="1346.0" font-size="24" fill="#131722" textLength="64.2" lengthAdjust="spacingAndGlyphs" font-weight="bold" >2026</text>
<text x="1922.4" y="180.4" font-size="24" fill="#131722" textLength="82.5" lengthAdjust="spacingAndGlyphs" >3.6000</text>
<text x="1922.4" y="247.5" font-size="24" fill="#131722" textLength="82.5" lengthAdjust="spacingAndGlyphs" >3.4000</text>
<text x="1922.4" y="314.6" font-size="24" fill="#131722" textLength="82.5" lengthAdjust="spacingAndGlyphs" >3.2000</text>
<text x="1922.4" y="381.7" font-size="24" fill="#131722" textLength="82.5" lengthAdjust="spacingAndGlyphs" >3.0000</text>
<text x="1922.4" y="448.8" font-size="24" fill="#131722" textLength="82.5" lengthAdjust="spacingAndGlyphs" >2.8000</text>
<text x="1922.4" y="918.5" font-size="24" fill="#131722" textLength="82.5" lengthAdjust="spacingAndGlyphs" >1.4000</text>
<text x="1922.4" y="985.6" font-size="24" fill="#131722" textLength="82.5" lengthAdjust="spacingAndGlyphs" >1.2000</text>
<rect x="1912" y="62" width="128" height="52.5" rx="8" fill="#fff" stroke="#E9E9EC" stroke-width="1.5"/>
<text x="1929.6" y="96.2" font-size="24" fill="#131722" textLength="64.5" lengthAdjust="spacingAndGlyphs" >USDT</text>
<path d="M1906 500.0 h107.0 a3 3 0 0 1 3 3 v28.0 a3 3 0 0 1 -3 3 h-107.0 z" fill="#9C27B0"/>
<text x="1922.3" y="525.0" font-size="23.5" fill="#fff" textLength="82.0" lengthAdjust="spacingAndGlyphs" >2.3239</text>
<path d="M1906 534.0 h107.0 a3 3 0 0 1 3 3 v28.0 a3 3 0 0 1 -3 3 h-107.0 z" fill="#000"/>
<text x="1922.3" y="559.0" font-size="23.5" fill="#fff" textLength="82.0" lengthAdjust="spacingAndGlyphs" >2.2400</text>
<path d="M1906 568.0 h107.0 a3 3 0 0 1 3 3 v28.0 a3 3 0 0 1 -3 3 h-107.0 z" fill="#2962FF"/>
<text x="1922.3" y="593.0" font-size="23.5" fill="#fff" textLength="82.0" lengthAdjust="spacingAndGlyphs" >2.2043</text>
<path d="M1906 602.0 h107.0 a3 3 0 0 1 3 3 v28.0 a3 3 0 0 1 -3 3 h-107.0 z" fill="#FF2A2A"/>
<text x="1922.3" y="627.0" font-size="23.5" fill="#fff" textLength="82.0" lengthAdjust="spacingAndGlyphs" >2.0776</text>
<path d="M1906 636.0 h107.0 a3 3 0 0 1 3 3 v28.0 a3 3 0 0 1 -3 3 h-107.0 z" fill="#000"/>
<text x="1922.3" y="661.0" font-size="23.5" fill="#fff" textLength="82.0" lengthAdjust="spacingAndGlyphs" >2.0710</text>
<path d="M1906 670 h129 a3 3 0 0 1 3 3 v56 a3 3 0 0 1 -3 3 h-129 z" fill="#EF5350"/>
<text x="1922.3" y="694.0" font-size="23.5" fill="#fff" textLength="82.0" lengthAdjust="spacingAndGlyphs" >2.0673</text>
<text x="1922.3" y="722.3" font-size="23.5" fill="#fff" textLength="102.6" lengthAdjust="spacingAndGlyphs" fill-opacity="0.7">14:02:11</text>
<path d="M1906 751.0 h107.0 a3 3 0 0 1 3 3 v28.0 a3 3 0 0 1 -3 3 h-107.0 z" fill="#000"/>
<text x="1922.3" y="776.0" font-size="23.5" fill="#fff" textLength="82.0" lengthAdjust="spacingAndGlyphs" >1.8245</text>
<path d="M1906 822.0 h107.0 a3 3 0 0 1 3 3 v28.0 a3 3 0 0 1 -3 3 h-107.0 z" fill="#000"/>
<text x="1922.3" y="847.0" font-size="23.5" fill="#fff" textLength="82.0" lengthAdjust="spacingAndGlyphs" >1.6130</text>
<path d="M1906 941.0 h107.0 a3 3 0 0 1 3 3 v28.0 a3 3 0 0 1 -3 3 h-107.0 z" fill="#000"/>
<text x="1922.3" y="966.0" font-size="23.5" fill="#fff" textLength="82.0" lengthAdjust="spacingAndGlyphs" >1.2575</text>
<path d="M1906 1006.0 h115.0 a3 3 0 0 1 3 3 v28.0 a3 3 0 0 1 -3 3 h-115.0 z" fill="#EF5350"/>
<text x="1922.3" y="1031.0" font-size="23.5" fill="#fff" textLength="90.9" lengthAdjust="spacingAndGlyphs" >17.29 M</text>
<path d="M1906 1052.0 h91.0 a3 3 0 0 1 3 3 v28.0 a3 3 0 0 1 -3 3 h-91.0 z" fill="#FDD835"/>
<text x="1922.3" y="1077.0" font-size="23.5" fill="#000" textLength="67.4" lengthAdjust="spacingAndGlyphs" >57.72</text>
<path d="M1906 1086.0 h91.0 a3 3 0 0 1 3 3 v28.0 a3 3 0 0 1 -3 3 h-91.0 z" fill="#7E57C2"/>
<text x="1922.3" y="1111.0" font-size="23.5" fill="#fff" textLength="67.4" lengthAdjust="spacingAndGlyphs" >50.77</text>
<path d="M1906 1177.0 h107.0 a3 3 0 0 1 3 3 v28.0 a3 3 0 0 1 -3 3 h-107.0 z" fill="#F23645"/>
<text x="1922.3" y="1202.0" font-size="23.5" fill="#fff" textLength="82.4" lengthAdjust="spacingAndGlyphs" >0.0334</text>
<path d="M1906 1211.0 h107.0 a3 3 0 0 1 3 3 v28.0 a3 3 0 0 1 -3 3 h-107.0 z" fill="#2962FF"/>
<text x="1922.3" y="1236.0" font-size="23.5" fill="#fff" textLength="82.4" lengthAdjust="spacingAndGlyphs" >0.0323</text>
<path d="M1906 1245.0 h121.0 a3 3 0 0 1 3 3 v28.0 a3 3 0 0 1 -3 3 h-121.0 z" fill="#FF5252"/>
<text x="1922.3" y="1270.0" font-size="23.5" fill="#fff" textLength="96.4" lengthAdjust="spacingAndGlyphs" >−0.0011</text>
<g fill="#131313">
<path d="M23.9 1408.3 H47.6 V1437.7 H35.7 V1420.1 H23.9 Z"/>
<circle cx="58.1" cy="1414.2" r="6.1"/>
<path d="M67.5 1408.3 H83.8 L72.3 1437.7 H58.2 Z"/>
</g>
<text x="98.0" y="1437.7" font-size="43" fill="#131313" textLength="242.0" lengthAdjust="spacingAndGlyphs" font-weight="bold" stroke="#131313" stroke-width="0.7">TradingView</text>
</svg></body></html>
